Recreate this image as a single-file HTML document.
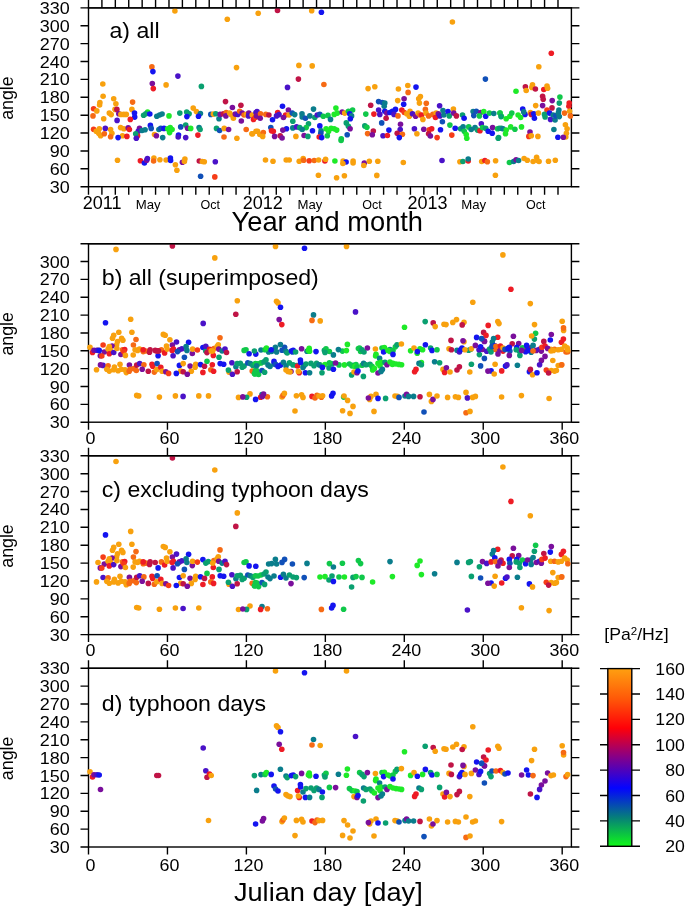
<!DOCTYPE html>
<html lang="en"><head><meta charset="utf-8"><title>Figure</title><style>html,body{margin:0;padding:0;background:#fff}svg{display:block}</style></head><body>
<svg width="685" height="908" viewBox="0 0 685 908">
<rect width="685" height="908" fill="#fff"/>
<defs><linearGradient id="cb" x1="0" y1="0" x2="0" y2="1"><stop offset="0" stop-color="#ffa010"/><stop offset="0.17" stop-color="#ff5808"/><stop offset="0.335" stop-color="#ff0008"/><stop offset="0.5" stop-color="#84008a"/><stop offset="0.672" stop-color="#0404ff"/><stop offset="0.84" stop-color="#068078"/><stop offset="1" stop-color="#10f818"/></linearGradient></defs>
<g stroke="#000" stroke-width="1.4" fill="none" stroke-linecap="butt">
<rect x="88.5" y="7.9" width="482.9" height="178.79999999999998"/>
<path d="M80.5 186.70H88.5M571.4 186.70H579.4 M80.5 168.82H88.5M571.4 168.82H579.4 M80.5 150.94H88.5M571.4 150.94H579.4 M80.5 133.06H88.5M571.4 133.06H579.4 M80.5 115.18H88.5M571.4 115.18H579.4 M80.5 97.30H88.5M571.4 97.30H579.4 M80.5 79.42H88.5M571.4 79.42H579.4 M80.5 61.54H88.5M571.4 61.54H579.4 M80.5 43.66H88.5M571.4 43.66H579.4 M80.5 25.78H88.5M571.4 25.78H579.4 M80.5 7.90H88.5M571.4 7.90H579.4 M88.50 -0.09999999999999964V7.9M88.50 186.7V194.7 M101.91 -0.09999999999999964V7.9M101.91 186.7V194.7 M115.33 -0.09999999999999964V7.9M115.33 186.7V194.7 M128.74 -0.09999999999999964V7.9M128.74 186.7V194.7 M142.16 -0.09999999999999964V7.9M142.16 186.7V194.7 M155.57 -0.09999999999999964V7.9M155.57 186.7V194.7 M168.98 -0.09999999999999964V7.9M168.98 186.7V194.7 M182.40 -0.09999999999999964V7.9M182.40 186.7V194.7 M195.81 -0.09999999999999964V7.9M195.81 186.7V194.7 M209.22 -0.09999999999999964V7.9M209.22 186.7V194.7 M222.64 -0.09999999999999964V7.9M222.64 186.7V194.7 M236.05 -0.09999999999999964V7.9M236.05 186.7V194.7 M249.47 -0.09999999999999964V7.9M249.47 186.7V194.7 M262.88 -0.09999999999999964V7.9M262.88 186.7V194.7 M276.29 -0.09999999999999964V7.9M276.29 186.7V194.7 M289.71 -0.09999999999999964V7.9M289.71 186.7V194.7 M303.12 -0.09999999999999964V7.9M303.12 186.7V194.7 M316.54 -0.09999999999999964V7.9M316.54 186.7V194.7 M329.95 -0.09999999999999964V7.9M329.95 186.7V194.7 M343.36 -0.09999999999999964V7.9M343.36 186.7V194.7 M356.78 -0.09999999999999964V7.9M356.78 186.7V194.7 M370.19 -0.09999999999999964V7.9M370.19 186.7V194.7 M383.61 -0.09999999999999964V7.9M383.61 186.7V194.7 M397.02 -0.09999999999999964V7.9M397.02 186.7V194.7 M410.43 -0.09999999999999964V7.9M410.43 186.7V194.7 M423.85 -0.09999999999999964V7.9M423.85 186.7V194.7 M437.26 -0.09999999999999964V7.9M437.26 186.7V194.7 M450.67 -0.09999999999999964V7.9M450.67 186.7V194.7 M464.09 -0.09999999999999964V7.9M464.09 186.7V194.7 M477.50 -0.09999999999999964V7.9M477.50 186.7V194.7 M490.92 -0.09999999999999964V7.9M490.92 186.7V194.7 M504.33 -0.09999999999999964V7.9M504.33 186.7V194.7 M517.74 -0.09999999999999964V7.9M517.74 186.7V194.7 M531.16 -0.09999999999999964V7.9M531.16 186.7V194.7 M544.57 -0.09999999999999964V7.9M544.57 186.7V194.7 M557.99 -0.09999999999999964V7.9M557.99 186.7V194.7"/>
<rect x="88.5" y="243.7" width="482.9" height="178.5"/>
<path d="M80.5 422.20H88.5M571.4 422.20H579.4 M80.5 404.35H88.5M571.4 404.35H579.4 M80.5 386.50H88.5M571.4 386.50H579.4 M80.5 368.65H88.5M571.4 368.65H579.4 M80.5 350.80H88.5M571.4 350.80H579.4 M80.5 332.95H88.5M571.4 332.95H579.4 M80.5 315.10H88.5M571.4 315.10H579.4 M80.5 297.25H88.5M571.4 297.25H579.4 M80.5 279.40H88.5M571.4 279.40H579.4 M80.5 261.55H88.5M571.4 261.55H579.4 M80.5 243.70H88.5M571.4 243.70H579.4 M88.50 422.2V429.7 M167.45 422.2V429.7 M246.40 422.2V429.7 M325.34 422.2V429.7 M404.29 422.2V429.7 M483.24 422.2V429.7 M562.19 422.2V429.7"/>
<rect x="88.5" y="455.8" width="482.9" height="178.8"/>
<path d="M80.5 634.60H88.5M571.4 634.60H579.4 M80.5 616.72H88.5M571.4 616.72H579.4 M80.5 598.84H88.5M571.4 598.84H579.4 M80.5 580.96H88.5M571.4 580.96H579.4 M80.5 563.08H88.5M571.4 563.08H579.4 M80.5 545.20H88.5M571.4 545.20H579.4 M80.5 527.32H88.5M571.4 527.32H579.4 M80.5 509.44H88.5M571.4 509.44H579.4 M80.5 491.56H88.5M571.4 491.56H579.4 M80.5 473.68H88.5M571.4 473.68H579.4 M80.5 455.80H88.5M571.4 455.80H579.4 M88.50 447.8V455.8 M88.50 634.6V642.1 M167.45 447.8V455.8 M167.45 634.6V642.1 M246.40 447.8V455.8 M246.40 634.6V642.1 M325.34 447.8V455.8 M325.34 634.6V642.1 M404.29 447.8V455.8 M404.29 634.6V642.1 M483.24 447.8V455.8 M483.24 634.6V642.1 M562.19 447.8V455.8 M562.19 634.6V642.1"/>
<rect x="88.5" y="668.3" width="482.9" height="178.70000000000005"/>
<path d="M80.5 847.00H88.5M571.4 847.00H579.4 M80.5 829.13H88.5M571.4 829.13H579.4 M80.5 811.26H88.5M571.4 811.26H579.4 M80.5 793.39H88.5M571.4 793.39H579.4 M80.5 775.52H88.5M571.4 775.52H579.4 M80.5 757.65H88.5M571.4 757.65H579.4 M80.5 739.78H88.5M571.4 739.78H579.4 M80.5 721.91H88.5M571.4 721.91H579.4 M80.5 704.04H88.5M571.4 704.04H579.4 M80.5 686.17H88.5M571.4 686.17H579.4 M80.5 668.30H88.5M571.4 668.30H579.4 M88.50 660.3V668.3 M88.50 847.0V854.5 M167.45 660.3V668.3 M167.45 847.0V854.5 M246.40 660.3V668.3 M246.40 847.0V854.5 M325.34 660.3V668.3 M325.34 847.0V854.5 M404.29 660.3V668.3 M404.29 847.0V854.5 M483.24 660.3V668.3 M483.24 847.0V854.5 M562.19 660.3V668.3 M562.19 847.0V854.5"/>
</g>
<clipPath id="cpa"><rect x="84.5" y="7.2" width="490.9" height="183.79999999999998"/></clipPath>
<g clip-path="url(#cpa)">
<circle cx="174.9" cy="11.0" r="2.8" fill="#f8a10e"/>
<circle cx="227.3" cy="19.2" r="2.8" fill="#f8a10e"/>
<circle cx="151.9" cy="66.9" r="2.8" fill="#f66a14"/>
<circle cx="152.9" cy="71.6" r="2.8" fill="#1414f0"/>
<circle cx="177.9" cy="76.1" r="2.8" fill="#4a12c8"/>
<circle cx="236.5" cy="67.6" r="2.8" fill="#f8a10e"/>
<circle cx="258.2" cy="13.2" r="2.8" fill="#f8a10e"/>
<circle cx="277.5" cy="10.5" r="2.8" fill="#c01446"/>
<circle cx="311.7" cy="10.7" r="2.8" fill="#f8a10e"/>
<circle cx="321.4" cy="12.2" r="2.8" fill="#1414f0"/>
<circle cx="298.9" cy="65.4" r="2.8" fill="#f8a10e"/>
<circle cx="312.2" cy="65.9" r="2.8" fill="#f8a10e"/>
<circle cx="298.4" cy="79.1" r="2.8" fill="#c01446"/>
<circle cx="452.4" cy="22.0" r="2.8" fill="#f8a10e"/>
<circle cx="551.3" cy="53.2" r="2.8" fill="#ee1c25"/>
<circle cx="538.8" cy="66.7" r="2.8" fill="#f8a10e"/>
<circle cx="485.4" cy="79.1" r="2.8" fill="#1050b8"/>
<circle cx="102.8" cy="84.0" r="2.8" fill="#f8a10e"/>
<circle cx="152.3" cy="83.6" r="2.8" fill="#7a0f9c"/>
<circle cx="153.3" cy="88.6" r="2.8" fill="#ee1c25"/>
<circle cx="166.1" cy="84.9" r="2.8" fill="#f8a10e"/>
<circle cx="103.1" cy="96.2" r="2.8" fill="#f8a10e"/>
<circle cx="99.9" cy="102.5" r="2.8" fill="#f8a10e"/>
<circle cx="99.6" cy="105.0" r="2.8" fill="#f8a10e"/>
<circle cx="113.7" cy="98.7" r="2.8" fill="#f8a10e"/>
<circle cx="115.9" cy="103.7" r="2.8" fill="#f8a10e"/>
<circle cx="132.6" cy="102.1" r="2.8" fill="#f66a14"/>
<circle cx="93.6" cy="108.7" r="2.8" fill="#f63c18"/>
<circle cx="96.8" cy="110.9" r="2.8" fill="#f8a10e"/>
<circle cx="115.0" cy="109.4" r="2.8" fill="#f8a10e"/>
<circle cx="116.9" cy="109.4" r="2.8" fill="#c01446"/>
<circle cx="131.9" cy="109.4" r="2.8" fill="#f8a10e"/>
<circle cx="93.0" cy="115.9" r="2.8" fill="#f66a14"/>
<circle cx="109.3" cy="113.1" r="2.8" fill="#f8a10e"/>
<circle cx="111.2" cy="114.6" r="2.8" fill="#f8a10e"/>
<circle cx="118.8" cy="113.8" r="2.8" fill="#7a0f9c"/>
<circle cx="120.9" cy="114.4" r="2.8" fill="#f8a10e"/>
<circle cx="123.8" cy="114.4" r="2.8" fill="#f8a10e"/>
<circle cx="126.3" cy="114.4" r="2.8" fill="#f8a10e"/>
<circle cx="103.7" cy="118.8" r="2.8" fill="#f8a10e"/>
<circle cx="117.1" cy="120.4" r="2.8" fill="#4a12c8"/>
<circle cx="134.5" cy="113.1" r="2.8" fill="#1414f0"/>
<circle cx="134.7" cy="117.1" r="2.8" fill="#1414f0"/>
<circle cx="130.3" cy="119.4" r="2.8" fill="#ee1c25"/>
<circle cx="147.6" cy="112.1" r="2.8" fill="#1eea28"/>
<circle cx="145.8" cy="113.8" r="2.8" fill="#0aa070"/>
<circle cx="143.6" cy="115.3" r="2.8" fill="#0aa070"/>
<circle cx="149.8" cy="114.0" r="2.8" fill="#1414f0"/>
<circle cx="156.8" cy="116.3" r="2.8" fill="#0a7d8c"/>
<circle cx="159.6" cy="115.0" r="2.8" fill="#0a7d8c"/>
<circle cx="162.1" cy="114.0" r="2.8" fill="#0a7d8c"/>
<circle cx="169.0" cy="115.9" r="2.8" fill="#1eea28"/>
<circle cx="93.6" cy="129.2" r="2.8" fill="#f63c18"/>
<circle cx="96.2" cy="131.3" r="2.8" fill="#f8a10e"/>
<circle cx="99.3" cy="128.8" r="2.8" fill="#f8a10e"/>
<circle cx="98.7" cy="133.2" r="2.8" fill="#f8a10e"/>
<circle cx="100.6" cy="135.7" r="2.8" fill="#f8a10e"/>
<circle cx="105.3" cy="128.4" r="2.8" fill="#4a12c8"/>
<circle cx="104.3" cy="133.8" r="2.8" fill="#f66a14"/>
<circle cx="110.6" cy="129.5" r="2.8" fill="#f8a10e"/>
<circle cx="111.9" cy="133.2" r="2.8" fill="#f8a10e"/>
<circle cx="110.6" cy="136.7" r="2.8" fill="#f66a14"/>
<circle cx="120.6" cy="127.6" r="2.8" fill="#f8a10e"/>
<circle cx="123.8" cy="128.8" r="2.8" fill="#f8a10e"/>
<circle cx="122.5" cy="135.7" r="2.8" fill="#f8a10e"/>
<circle cx="118.1" cy="137.6" r="2.8" fill="#1414f0"/>
<circle cx="128.2" cy="127.9" r="2.8" fill="#7a0f9c"/>
<circle cx="129.4" cy="129.5" r="2.8" fill="#ee1c25"/>
<circle cx="126.9" cy="136.4" r="2.8" fill="#ee1c25"/>
<circle cx="139.5" cy="128.2" r="2.8" fill="#7a0f9c"/>
<circle cx="138.2" cy="131.3" r="2.8" fill="#4a12c8"/>
<circle cx="137.6" cy="135.7" r="2.8" fill="#ee1c25"/>
<circle cx="135.7" cy="133.8" r="2.8" fill="#0aa070"/>
<circle cx="136.3" cy="138.2" r="2.8" fill="#4a12c8"/>
<circle cx="142.0" cy="130.5" r="2.8" fill="#0a7d8c"/>
<circle cx="145.1" cy="129.7" r="2.8" fill="#0a7d8c"/>
<circle cx="150.4" cy="125.4" r="2.8" fill="#1414f0"/>
<circle cx="151.2" cy="128.4" r="2.8" fill="#1050b8"/>
<circle cx="154.5" cy="134.5" r="2.8" fill="#f8a10e"/>
<circle cx="156.4" cy="135.7" r="2.8" fill="#7a0f9c"/>
<circle cx="158.9" cy="129.5" r="2.8" fill="#0a7d8c"/>
<circle cx="160.8" cy="128.2" r="2.8" fill="#1050b8"/>
<circle cx="164.0" cy="128.4" r="2.8" fill="#1414f0"/>
<circle cx="162.7" cy="137.6" r="2.8" fill="#0a7d8c"/>
<circle cx="167.7" cy="128.8" r="2.8" fill="#1eea28"/>
<circle cx="170.2" cy="127.6" r="2.8" fill="#1eea28"/>
<circle cx="172.1" cy="129.5" r="2.8" fill="#1eea28"/>
<circle cx="169.6" cy="132.6" r="2.8" fill="#1eea28"/>
<circle cx="201.4" cy="86.4" r="2.8" fill="#0aa070"/>
<circle cx="225.5" cy="101.6" r="2.8" fill="#c01446"/>
<circle cx="240.9" cy="105.3" r="2.8" fill="#c01446"/>
<circle cx="232.4" cy="107.5" r="2.8" fill="#7a0f9c"/>
<circle cx="193.2" cy="108.1" r="2.8" fill="#f8a10e"/>
<circle cx="196.4" cy="111.6" r="2.8" fill="#f8a10e"/>
<circle cx="179.8" cy="113.1" r="2.8" fill="#0aa070"/>
<circle cx="186.7" cy="112.1" r="2.8" fill="#0aa070"/>
<circle cx="189.1" cy="113.8" r="2.8" fill="#0aa070"/>
<circle cx="186.9" cy="116.6" r="2.8" fill="#1414f0"/>
<circle cx="200.4" cy="113.5" r="2.8" fill="#0a7d8c"/>
<circle cx="198.5" cy="116.3" r="2.8" fill="#1414f0"/>
<circle cx="210.8" cy="114.4" r="2.8" fill="#1050b8"/>
<circle cx="213.3" cy="114.1" r="2.8" fill="#f8a10e"/>
<circle cx="215.8" cy="113.8" r="2.8" fill="#0aa070"/>
<circle cx="219.0" cy="118.8" r="2.8" fill="#0a7d8c"/>
<circle cx="220.2" cy="114.4" r="2.8" fill="#7a0f9c"/>
<circle cx="223.4" cy="113.8" r="2.8" fill="#c01446"/>
<circle cx="226.2" cy="112.5" r="2.8" fill="#f66a14"/>
<circle cx="225.9" cy="115.9" r="2.8" fill="#7a0f9c"/>
<circle cx="229.6" cy="113.1" r="2.8" fill="#f8a10e"/>
<circle cx="231.5" cy="115.0" r="2.8" fill="#f8a10e"/>
<circle cx="233.4" cy="118.2" r="2.8" fill="#f8a10e"/>
<circle cx="235.3" cy="114.1" r="2.8" fill="#7a0f9c"/>
<circle cx="237.8" cy="114.4" r="2.8" fill="#4a12c8"/>
<circle cx="239.7" cy="111.2" r="2.8" fill="#f66a14"/>
<circle cx="242.2" cy="113.1" r="2.8" fill="#7a0f9c"/>
<circle cx="244.1" cy="115.0" r="2.8" fill="#f66a14"/>
<circle cx="246.6" cy="114.4" r="2.8" fill="#f8a10e"/>
<circle cx="248.8" cy="113.1" r="2.8" fill="#7a0f9c"/>
<circle cx="248.5" cy="115.9" r="2.8" fill="#4a12c8"/>
<circle cx="252.2" cy="115.0" r="2.8" fill="#f8a10e"/>
<circle cx="253.5" cy="119.4" r="2.8" fill="#ee1c25"/>
<circle cx="256.0" cy="112.5" r="2.8" fill="#4a12c8"/>
<circle cx="255.4" cy="117.5" r="2.8" fill="#f63c18"/>
<circle cx="241.3" cy="121.0" r="2.8" fill="#7a0f9c"/>
<circle cx="180.7" cy="126.9" r="2.8" fill="#1050b8"/>
<circle cx="185.7" cy="125.1" r="2.8" fill="#0aa070"/>
<circle cx="187.6" cy="128.2" r="2.8" fill="#7a0f9c"/>
<circle cx="190.7" cy="128.4" r="2.8" fill="#1eea28"/>
<circle cx="178.5" cy="135.1" r="2.8" fill="#1414f0"/>
<circle cx="178.2" cy="137.0" r="2.8" fill="#4a12c8"/>
<circle cx="185.7" cy="137.6" r="2.8" fill="#4a12c8"/>
<circle cx="199.1" cy="127.6" r="2.8" fill="#0a7d8c"/>
<circle cx="200.1" cy="129.5" r="2.8" fill="#0aa070"/>
<circle cx="197.9" cy="135.1" r="2.8" fill="#ee1c25"/>
<circle cx="216.5" cy="128.4" r="2.8" fill="#0aa070"/>
<circle cx="219.6" cy="130.5" r="2.8" fill="#1050b8"/>
<circle cx="224.2" cy="128.4" r="2.8" fill="#f8a10e"/>
<circle cx="228.6" cy="129.5" r="2.8" fill="#7a0f9c"/>
<circle cx="224.0" cy="137.0" r="2.8" fill="#f66a14"/>
<circle cx="236.9" cy="138.2" r="2.8" fill="#f8a10e"/>
<circle cx="246.2" cy="129.5" r="2.8" fill="#f66a14"/>
<circle cx="251.9" cy="133.8" r="2.8" fill="#f8a10e"/>
<circle cx="256.0" cy="131.3" r="2.8" fill="#f8a10e"/>
<circle cx="287.5" cy="87.4" r="2.8" fill="#4a12c8"/>
<circle cx="323.9" cy="84.5" r="2.8" fill="#f66a14"/>
<circle cx="282.5" cy="106.2" r="2.8" fill="#1414f0"/>
<circle cx="313.5" cy="109.1" r="2.8" fill="#0a7d8c"/>
<circle cx="335.9" cy="108.1" r="2.8" fill="#1eea28"/>
<circle cx="257.0" cy="111.6" r="2.8" fill="#4a12c8"/>
<circle cx="256.4" cy="115.9" r="2.8" fill="#7a0f9c"/>
<circle cx="260.5" cy="113.8" r="2.8" fill="#f66a14"/>
<circle cx="260.2" cy="118.2" r="2.8" fill="#7a0f9c"/>
<circle cx="265.8" cy="114.4" r="2.8" fill="#f66a14"/>
<circle cx="268.9" cy="115.0" r="2.8" fill="#c01446"/>
<circle cx="277.7" cy="112.5" r="2.8" fill="#ee1c25"/>
<circle cx="279.0" cy="114.6" r="2.8" fill="#4a12c8"/>
<circle cx="276.5" cy="115.9" r="2.8" fill="#4a12c8"/>
<circle cx="272.5" cy="119.7" r="2.8" fill="#1414f0"/>
<circle cx="288.4" cy="110.0" r="2.8" fill="#7a0f9c"/>
<circle cx="285.6" cy="115.0" r="2.8" fill="#ee1c25"/>
<circle cx="283.4" cy="117.5" r="2.8" fill="#7a0f9c"/>
<circle cx="289.0" cy="115.0" r="2.8" fill="#f8a10e"/>
<circle cx="292.2" cy="113.1" r="2.8" fill="#1050b8"/>
<circle cx="294.7" cy="114.6" r="2.8" fill="#0a7d8c"/>
<circle cx="302.0" cy="113.8" r="2.8" fill="#0a7d8c"/>
<circle cx="302.2" cy="116.9" r="2.8" fill="#0a7d8c"/>
<circle cx="305.4" cy="118.2" r="2.8" fill="#1050b8"/>
<circle cx="309.8" cy="115.9" r="2.8" fill="#0a7d8c"/>
<circle cx="314.8" cy="117.5" r="2.8" fill="#0aa070"/>
<circle cx="317.3" cy="115.0" r="2.8" fill="#4a12c8"/>
<circle cx="319.8" cy="114.4" r="2.8" fill="#1050b8"/>
<circle cx="323.3" cy="116.3" r="2.8" fill="#10c84a"/>
<circle cx="328.0" cy="115.4" r="2.8" fill="#10c84a"/>
<circle cx="330.5" cy="119.4" r="2.8" fill="#0a7d8c"/>
<circle cx="334.2" cy="114.4" r="2.8" fill="#1eea28"/>
<circle cx="337.4" cy="113.1" r="2.8" fill="#1eea28"/>
<circle cx="292.8" cy="121.3" r="2.8" fill="#0aa070"/>
<circle cx="308.5" cy="123.8" r="2.8" fill="#0aa070"/>
<circle cx="306.2" cy="127.6" r="2.8" fill="#10c84a"/>
<circle cx="319.8" cy="125.9" r="2.8" fill="#1414f0"/>
<circle cx="270.8" cy="127.6" r="2.8" fill="#1050b8"/>
<circle cx="271.5" cy="130.7" r="2.8" fill="#ee1c25"/>
<circle cx="273.3" cy="131.3" r="2.8" fill="#ee1c25"/>
<circle cx="286.5" cy="128.8" r="2.8" fill="#1414f0"/>
<circle cx="282.8" cy="130.1" r="2.8" fill="#7a0f9c"/>
<circle cx="292.8" cy="127.9" r="2.8" fill="#0a7d8c"/>
<circle cx="296.6" cy="126.9" r="2.8" fill="#4a12c8"/>
<circle cx="299.7" cy="127.6" r="2.8" fill="#0aa070"/>
<circle cx="302.2" cy="129.5" r="2.8" fill="#0a7d8c"/>
<circle cx="312.5" cy="130.7" r="2.8" fill="#1414f0"/>
<circle cx="321.1" cy="130.7" r="2.8" fill="#0a7d8c"/>
<circle cx="320.8" cy="133.2" r="2.8" fill="#1050b8"/>
<circle cx="326.1" cy="128.8" r="2.8" fill="#1eea28"/>
<circle cx="328.6" cy="131.3" r="2.8" fill="#1eea28"/>
<circle cx="331.1" cy="128.2" r="2.8" fill="#1eea28"/>
<circle cx="334.2" cy="128.8" r="2.8" fill="#1eea28"/>
<circle cx="336.7" cy="130.1" r="2.8" fill="#1eea28"/>
<circle cx="257.6" cy="131.3" r="2.8" fill="#f8a10e"/>
<circle cx="259.8" cy="134.5" r="2.8" fill="#f8a10e"/>
<circle cx="263.3" cy="132.6" r="2.8" fill="#f66a14"/>
<circle cx="262.7" cy="136.4" r="2.8" fill="#f8a10e"/>
<circle cx="252.6" cy="133.8" r="2.8" fill="#f8a10e"/>
<circle cx="274.6" cy="136.4" r="2.8" fill="#7a0f9c"/>
<circle cx="280.2" cy="135.7" r="2.8" fill="#c01446"/>
<circle cx="282.1" cy="138.0" r="2.8" fill="#7a0f9c"/>
<circle cx="295.9" cy="136.4" r="2.8" fill="#f8a10e"/>
<circle cx="304.1" cy="135.5" r="2.8" fill="#7a0f9c"/>
<circle cx="307.9" cy="136.4" r="2.8" fill="#0aa070"/>
<circle cx="319.2" cy="137.0" r="2.8" fill="#ee1c25"/>
<circle cx="321.7" cy="137.6" r="2.8" fill="#1414f0"/>
<circle cx="327.3" cy="135.7" r="2.8" fill="#10c84a"/>
<circle cx="368.1" cy="88.6" r="2.8" fill="#f8a10e"/>
<circle cx="374.8" cy="86.8" r="2.8" fill="#f8a10e"/>
<circle cx="398.4" cy="89.0" r="2.8" fill="#f8a10e"/>
<circle cx="407.8" cy="85.5" r="2.8" fill="#f8a10e"/>
<circle cx="416.0" cy="87.1" r="2.8" fill="#1414f0"/>
<circle cx="408.1" cy="92.4" r="2.8" fill="#f66a14"/>
<circle cx="404.1" cy="98.7" r="2.8" fill="#7a0f9c"/>
<circle cx="397.7" cy="100.6" r="2.8" fill="#f8a10e"/>
<circle cx="403.7" cy="104.3" r="2.8" fill="#1414f0"/>
<circle cx="418.7" cy="98.7" r="2.8" fill="#f8a10e"/>
<circle cx="419.4" cy="103.1" r="2.8" fill="#f8a10e"/>
<circle cx="370.7" cy="105.3" r="2.8" fill="#c01446"/>
<circle cx="378.6" cy="101.6" r="2.8" fill="#1050b8"/>
<circle cx="382.3" cy="102.5" r="2.8" fill="#1050b8"/>
<circle cx="384.8" cy="103.1" r="2.8" fill="#0a7d8c"/>
<circle cx="384.2" cy="106.2" r="2.8" fill="#0a7d8c"/>
<circle cx="342.2" cy="112.1" r="2.8" fill="#7a0f9c"/>
<circle cx="344.7" cy="113.1" r="2.8" fill="#f8a10e"/>
<circle cx="348.4" cy="111.2" r="2.8" fill="#10c84a"/>
<circle cx="352.6" cy="110.0" r="2.8" fill="#10c84a"/>
<circle cx="349.7" cy="113.8" r="2.8" fill="#1414f0"/>
<circle cx="351.6" cy="115.9" r="2.8" fill="#0a7d8c"/>
<circle cx="350.3" cy="118.8" r="2.8" fill="#1414f0"/>
<circle cx="365.8" cy="114.1" r="2.8" fill="#10c84a"/>
<circle cx="373.9" cy="114.1" r="2.8" fill="#ee1c25"/>
<circle cx="378.6" cy="110.0" r="2.8" fill="#4a12c8"/>
<circle cx="379.8" cy="114.4" r="2.8" fill="#4a12c8"/>
<circle cx="384.8" cy="111.2" r="2.8" fill="#1414f0"/>
<circle cx="386.7" cy="113.1" r="2.8" fill="#7a0f9c"/>
<circle cx="386.1" cy="118.2" r="2.8" fill="#c01446"/>
<circle cx="389.9" cy="112.5" r="2.8" fill="#1414f0"/>
<circle cx="392.4" cy="111.2" r="2.8" fill="#1414f0"/>
<circle cx="395.5" cy="109.4" r="2.8" fill="#1414f0"/>
<circle cx="394.0" cy="114.4" r="2.8" fill="#4a12c8"/>
<circle cx="398.0" cy="115.9" r="2.8" fill="#f66a14"/>
<circle cx="401.8" cy="110.0" r="2.8" fill="#ee1c25"/>
<circle cx="404.3" cy="112.5" r="2.8" fill="#f63c18"/>
<circle cx="406.8" cy="113.8" r="2.8" fill="#f8a10e"/>
<circle cx="410.0" cy="111.2" r="2.8" fill="#f8a10e"/>
<circle cx="409.3" cy="116.3" r="2.8" fill="#f8a10e"/>
<circle cx="412.5" cy="113.8" r="2.8" fill="#4a12c8"/>
<circle cx="415.6" cy="116.3" r="2.8" fill="#7a0f9c"/>
<circle cx="418.1" cy="113.1" r="2.8" fill="#f8a10e"/>
<circle cx="420.0" cy="115.0" r="2.8" fill="#f66a14"/>
<circle cx="346.3" cy="122.9" r="2.8" fill="#0aa070"/>
<circle cx="348.4" cy="126.3" r="2.8" fill="#0aa070"/>
<circle cx="350.1" cy="128.8" r="2.8" fill="#7a0f9c"/>
<circle cx="381.7" cy="122.9" r="2.8" fill="#1050b8"/>
<circle cx="400.5" cy="124.2" r="2.8" fill="#7a0f9c"/>
<circle cx="400.2" cy="129.5" r="2.8" fill="#4a12c8"/>
<circle cx="364.8" cy="125.9" r="2.8" fill="#0aa070"/>
<circle cx="366.9" cy="127.2" r="2.8" fill="#10c84a"/>
<circle cx="373.3" cy="131.0" r="2.8" fill="#c01446"/>
<circle cx="367.6" cy="133.6" r="2.8" fill="#f66a14"/>
<circle cx="372.3" cy="134.7" r="2.8" fill="#7a0f9c"/>
<circle cx="388.9" cy="130.1" r="2.8" fill="#1414f0"/>
<circle cx="383.0" cy="135.7" r="2.8" fill="#4a12c8"/>
<circle cx="387.4" cy="135.5" r="2.8" fill="#ee1c25"/>
<circle cx="397.2" cy="133.2" r="2.8" fill="#c01446"/>
<circle cx="402.4" cy="134.2" r="2.8" fill="#f66a14"/>
<circle cx="399.3" cy="137.6" r="2.8" fill="#1414f0"/>
<circle cx="414.4" cy="128.8" r="2.8" fill="#4a12c8"/>
<circle cx="416.9" cy="133.8" r="2.8" fill="#f8a10e"/>
<circle cx="347.2" cy="134.7" r="2.8" fill="#1050b8"/>
<circle cx="341.3" cy="138.9" r="2.8" fill="#10c84a"/>
<circle cx="420.4" cy="96.6" r="2.8" fill="#f8a10e"/>
<circle cx="426.3" cy="103.3" r="2.8" fill="#f66a14"/>
<circle cx="425.4" cy="109.4" r="2.8" fill="#f66a14"/>
<circle cx="439.6" cy="105.8" r="2.8" fill="#4a12c8"/>
<circle cx="421.6" cy="115.0" r="2.8" fill="#ee1c25"/>
<circle cx="422.9" cy="119.4" r="2.8" fill="#f8a10e"/>
<circle cx="426.0" cy="113.1" r="2.8" fill="#f8a10e"/>
<circle cx="428.6" cy="115.9" r="2.8" fill="#f66a14"/>
<circle cx="432.9" cy="114.4" r="2.8" fill="#f66a14"/>
<circle cx="436.1" cy="113.1" r="2.8" fill="#f8a10e"/>
<circle cx="435.5" cy="117.5" r="2.8" fill="#ee1c25"/>
<circle cx="438.3" cy="113.8" r="2.8" fill="#7a0f9c"/>
<circle cx="439.9" cy="115.9" r="2.8" fill="#4a12c8"/>
<circle cx="443.0" cy="110.6" r="2.8" fill="#0a7d8c"/>
<circle cx="443.9" cy="115.0" r="2.8" fill="#0a7d8c"/>
<circle cx="448.0" cy="111.6" r="2.8" fill="#1414f0"/>
<circle cx="449.3" cy="115.9" r="2.8" fill="#0aa070"/>
<circle cx="453.4" cy="109.1" r="2.8" fill="#f8a10e"/>
<circle cx="453.7" cy="113.1" r="2.8" fill="#7a0f9c"/>
<circle cx="456.4" cy="115.9" r="2.8" fill="#c01446"/>
<circle cx="442.4" cy="121.7" r="2.8" fill="#1050b8"/>
<circle cx="462.5" cy="115.0" r="2.8" fill="#0aa070"/>
<circle cx="464.1" cy="118.2" r="2.8" fill="#1414f0"/>
<circle cx="473.1" cy="111.6" r="2.8" fill="#0a7d8c"/>
<circle cx="476.3" cy="111.2" r="2.8" fill="#1050b8"/>
<circle cx="473.8" cy="115.6" r="2.8" fill="#1050b8"/>
<circle cx="480.7" cy="112.5" r="2.8" fill="#7a0f9c"/>
<circle cx="479.4" cy="115.9" r="2.8" fill="#10c84a"/>
<circle cx="483.8" cy="111.6" r="2.8" fill="#1eea28"/>
<circle cx="485.7" cy="116.3" r="2.8" fill="#1414f0"/>
<circle cx="489.4" cy="113.1" r="2.8" fill="#10c84a"/>
<circle cx="493.8" cy="113.5" r="2.8" fill="#0a7d8c"/>
<circle cx="500.1" cy="113.1" r="2.8" fill="#1eea28"/>
<circle cx="501.4" cy="116.3" r="2.8" fill="#1eea28"/>
<circle cx="449.9" cy="125.1" r="2.8" fill="#10c84a"/>
<circle cx="481.3" cy="123.8" r="2.8" fill="#4a12c8"/>
<circle cx="423.8" cy="129.2" r="2.8" fill="#7a0f9c"/>
<circle cx="429.2" cy="129.7" r="2.8" fill="#f63c18"/>
<circle cx="431.7" cy="128.8" r="2.8" fill="#ee1c25"/>
<circle cx="440.5" cy="129.7" r="2.8" fill="#1414f0"/>
<circle cx="455.2" cy="128.2" r="2.8" fill="#1414f0"/>
<circle cx="460.6" cy="128.8" r="2.8" fill="#0aa070"/>
<circle cx="463.1" cy="126.9" r="2.8" fill="#0a7d8c"/>
<circle cx="464.3" cy="131.3" r="2.8" fill="#10c84a"/>
<circle cx="468.7" cy="126.9" r="2.8" fill="#10c84a"/>
<circle cx="471.2" cy="129.5" r="2.8" fill="#0a7d8c"/>
<circle cx="475.0" cy="127.6" r="2.8" fill="#0a7d8c"/>
<circle cx="477.5" cy="130.1" r="2.8" fill="#0aa070"/>
<circle cx="480.0" cy="130.7" r="2.8" fill="#ee1c25"/>
<circle cx="482.5" cy="127.6" r="2.8" fill="#10c84a"/>
<circle cx="485.7" cy="128.2" r="2.8" fill="#0aa070"/>
<circle cx="488.2" cy="131.3" r="2.8" fill="#1414f0"/>
<circle cx="492.6" cy="127.6" r="2.8" fill="#7a0f9c"/>
<circle cx="492.2" cy="133.2" r="2.8" fill="#1414f0"/>
<circle cx="497.6" cy="128.8" r="2.8" fill="#10c84a"/>
<circle cx="501.4" cy="128.2" r="2.8" fill="#0aa070"/>
<circle cx="428.6" cy="133.8" r="2.8" fill="#c01446"/>
<circle cx="430.4" cy="136.0" r="2.8" fill="#7a0f9c"/>
<circle cx="437.1" cy="137.6" r="2.8" fill="#f63c18"/>
<circle cx="451.8" cy="135.1" r="2.8" fill="#f63c18"/>
<circle cx="466.2" cy="134.5" r="2.8" fill="#1eea28"/>
<circle cx="466.8" cy="138.2" r="2.8" fill="#1eea28"/>
<circle cx="498.2" cy="138.2" r="2.8" fill="#0aa070"/>
<circle cx="516.0" cy="91.2" r="2.8" fill="#1eea28"/>
<circle cx="525.4" cy="86.8" r="2.8" fill="#c01446"/>
<circle cx="526.2" cy="90.5" r="2.8" fill="#f8a10e"/>
<circle cx="532.5" cy="84.9" r="2.8" fill="#f8a10e"/>
<circle cx="531.9" cy="87.4" r="2.8" fill="#f8a10e"/>
<circle cx="535.4" cy="89.0" r="2.8" fill="#c01446"/>
<circle cx="543.8" cy="89.5" r="2.8" fill="#ee1c25"/>
<circle cx="547.0" cy="86.1" r="2.8" fill="#f8a10e"/>
<circle cx="547.6" cy="88.3" r="2.8" fill="#f8a10e"/>
<circle cx="542.6" cy="96.2" r="2.8" fill="#c01446"/>
<circle cx="543.2" cy="99.3" r="2.8" fill="#c01446"/>
<circle cx="552.2" cy="100.6" r="2.8" fill="#7a0f9c"/>
<circle cx="559.9" cy="97.1" r="2.8" fill="#10c84a"/>
<circle cx="559.3" cy="103.1" r="2.8" fill="#0aa070"/>
<circle cx="569.2" cy="103.1" r="2.8" fill="#ee1c25"/>
<circle cx="568.9" cy="106.2" r="2.8" fill="#ee1c25"/>
<circle cx="535.7" cy="105.6" r="2.8" fill="#f8a10e"/>
<circle cx="542.6" cy="105.6" r="2.8" fill="#7a0f9c"/>
<circle cx="552.0" cy="107.9" r="2.8" fill="#c01446"/>
<circle cx="547.0" cy="110.0" r="2.8" fill="#f63c18"/>
<circle cx="522.7" cy="109.1" r="2.8" fill="#1414f0"/>
<circle cx="525.0" cy="114.4" r="2.8" fill="#1414f0"/>
<circle cx="523.7" cy="111.9" r="2.8" fill="#0a7d8c"/>
<circle cx="499.9" cy="113.1" r="2.8" fill="#10c84a"/>
<circle cx="501.1" cy="116.6" r="2.8" fill="#0aa070"/>
<circle cx="506.2" cy="118.8" r="2.8" fill="#1eea28"/>
<circle cx="509.9" cy="116.3" r="2.8" fill="#1eea28"/>
<circle cx="511.8" cy="113.1" r="2.8" fill="#10c84a"/>
<circle cx="518.1" cy="115.0" r="2.8" fill="#1eea28"/>
<circle cx="520.6" cy="117.5" r="2.8" fill="#1eea28"/>
<circle cx="530.4" cy="112.5" r="2.8" fill="#f8a10e"/>
<circle cx="531.3" cy="114.4" r="2.8" fill="#c01446"/>
<circle cx="533.8" cy="113.8" r="2.8" fill="#1414f0"/>
<circle cx="534.4" cy="118.2" r="2.8" fill="#1414f0"/>
<circle cx="538.4" cy="113.1" r="2.8" fill="#f8a10e"/>
<circle cx="544.5" cy="114.4" r="2.8" fill="#0aa070"/>
<circle cx="545.1" cy="116.9" r="2.8" fill="#0aa070"/>
<circle cx="549.5" cy="113.1" r="2.8" fill="#1414f0"/>
<circle cx="550.5" cy="119.4" r="2.8" fill="#4a12c8"/>
<circle cx="553.2" cy="115.0" r="2.8" fill="#0a7d8c"/>
<circle cx="555.1" cy="120.0" r="2.8" fill="#0a7d8c"/>
<circle cx="555.8" cy="115.9" r="2.8" fill="#1050b8"/>
<circle cx="558.9" cy="110.0" r="2.8" fill="#0a7d8c"/>
<circle cx="558.3" cy="113.1" r="2.8" fill="#0a7d8c"/>
<circle cx="559.3" cy="116.6" r="2.8" fill="#0a7d8c"/>
<circle cx="564.5" cy="113.1" r="2.8" fill="#f66a14"/>
<circle cx="569.6" cy="111.2" r="2.8" fill="#f8a10e"/>
<circle cx="570.4" cy="115.9" r="2.8" fill="#f66a14"/>
<circle cx="499.3" cy="128.2" r="2.8" fill="#0aa070"/>
<circle cx="503.0" cy="128.8" r="2.8" fill="#0a7d8c"/>
<circle cx="506.2" cy="130.1" r="2.8" fill="#1eea28"/>
<circle cx="510.6" cy="126.9" r="2.8" fill="#1eea28"/>
<circle cx="514.9" cy="129.2" r="2.8" fill="#10c84a"/>
<circle cx="505.5" cy="133.8" r="2.8" fill="#1eea28"/>
<circle cx="521.5" cy="126.9" r="2.8" fill="#1eea28"/>
<circle cx="498.6" cy="137.6" r="2.8" fill="#0aa070"/>
<circle cx="530.0" cy="132.0" r="2.8" fill="#7a0f9c"/>
<circle cx="528.8" cy="136.4" r="2.8" fill="#f63c18"/>
<circle cx="531.3" cy="135.7" r="2.8" fill="#f8a10e"/>
<circle cx="537.9" cy="136.4" r="2.8" fill="#f8a10e"/>
<circle cx="553.9" cy="129.5" r="2.8" fill="#0a7d8c"/>
<circle cx="557.9" cy="137.2" r="2.8" fill="#1414f0"/>
<circle cx="565.4" cy="124.7" r="2.8" fill="#f8a10e"/>
<circle cx="567.1" cy="128.8" r="2.8" fill="#f8a10e"/>
<circle cx="566.4" cy="133.2" r="2.8" fill="#f8a10e"/>
<circle cx="565.8" cy="137.0" r="2.8" fill="#f8a10e"/>
<circle cx="563.3" cy="137.2" r="2.8" fill="#7a0f9c"/>
<circle cx="117.5" cy="160.2" r="2.8" fill="#f8a10e"/>
<circle cx="140.4" cy="160.7" r="2.8" fill="#ee1c25"/>
<circle cx="144.4" cy="163.0" r="2.8" fill="#1414f0"/>
<circle cx="146.7" cy="160.2" r="2.8" fill="#7a0f9c"/>
<circle cx="147.4" cy="158.5" r="2.8" fill="#4a12c8"/>
<circle cx="153.9" cy="158.0" r="2.8" fill="#f8a10e"/>
<circle cx="153.6" cy="161.0" r="2.8" fill="#f66a14"/>
<circle cx="159.9" cy="159.7" r="2.8" fill="#f8a10e"/>
<circle cx="166.1" cy="160.0" r="2.8" fill="#f8a10e"/>
<circle cx="170.4" cy="158.0" r="2.8" fill="#1414f0"/>
<circle cx="170.6" cy="160.5" r="2.8" fill="#1414f0"/>
<circle cx="175.4" cy="164.7" r="2.8" fill="#f8a10e"/>
<circle cx="176.9" cy="170.2" r="2.8" fill="#f8a10e"/>
<circle cx="182.4" cy="162.2" r="2.8" fill="#7a0f9c"/>
<circle cx="184.9" cy="159.0" r="2.8" fill="#f8a10e"/>
<circle cx="184.4" cy="161.5" r="2.8" fill="#f8a10e"/>
<circle cx="199.3" cy="161.0" r="2.8" fill="#c01446"/>
<circle cx="202.3" cy="161.5" r="2.8" fill="#f8a10e"/>
<circle cx="204.3" cy="161.7" r="2.8" fill="#f8a10e"/>
<circle cx="215.3" cy="161.7" r="2.8" fill="#4a12c8"/>
<circle cx="200.6" cy="176.2" r="2.8" fill="#1050b8"/>
<circle cx="214.8" cy="176.9" r="2.8" fill="#f63c18"/>
<circle cx="341.1" cy="140.5" r="2.8" fill="#10c84a"/>
<circle cx="265.5" cy="160.0" r="2.8" fill="#f8a10e"/>
<circle cx="273.0" cy="161.2" r="2.8" fill="#f8a10e"/>
<circle cx="286.2" cy="160.0" r="2.8" fill="#f8a10e"/>
<circle cx="289.2" cy="160.0" r="2.8" fill="#f8a10e"/>
<circle cx="299.2" cy="161.2" r="2.8" fill="#f8a10e"/>
<circle cx="303.2" cy="158.5" r="2.8" fill="#f8a10e"/>
<circle cx="303.7" cy="160.2" r="2.8" fill="#f66a14"/>
<circle cx="309.2" cy="160.7" r="2.8" fill="#f63c18"/>
<circle cx="314.2" cy="160.5" r="2.8" fill="#f66a14"/>
<circle cx="318.6" cy="160.0" r="2.8" fill="#f8a10e"/>
<circle cx="324.9" cy="161.0" r="2.8" fill="#ee1c25"/>
<circle cx="325.6" cy="159.2" r="2.8" fill="#f8a10e"/>
<circle cx="334.9" cy="161.0" r="2.8" fill="#1eea28"/>
<circle cx="343.1" cy="161.0" r="2.8" fill="#f8a10e"/>
<circle cx="346.1" cy="162.0" r="2.8" fill="#1414f0"/>
<circle cx="342.9" cy="163.5" r="2.8" fill="#f8a10e"/>
<circle cx="353.1" cy="161.0" r="2.8" fill="#f8a10e"/>
<circle cx="353.1" cy="163.0" r="2.8" fill="#f8a10e"/>
<circle cx="364.3" cy="163.0" r="2.8" fill="#7a0f9c"/>
<circle cx="363.8" cy="165.5" r="2.8" fill="#f8a10e"/>
<circle cx="369.3" cy="161.2" r="2.8" fill="#f8a10e"/>
<circle cx="377.8" cy="161.2" r="2.8" fill="#f8a10e"/>
<circle cx="403.3" cy="162.5" r="2.8" fill="#f8a10e"/>
<circle cx="318.4" cy="175.2" r="2.8" fill="#f8a10e"/>
<circle cx="336.6" cy="177.7" r="2.8" fill="#f8a10e"/>
<circle cx="344.4" cy="175.7" r="2.8" fill="#f8a10e"/>
<circle cx="376.8" cy="175.4" r="2.8" fill="#f8a10e"/>
<circle cx="442.0" cy="160.5" r="2.8" fill="#4a12c8"/>
<circle cx="459.9" cy="161.7" r="2.8" fill="#f8a10e"/>
<circle cx="462.9" cy="161.5" r="2.8" fill="#0aa070"/>
<circle cx="468.2" cy="161.0" r="2.8" fill="#ee1c25"/>
<circle cx="468.2" cy="159.0" r="2.8" fill="#0a7d8c"/>
<circle cx="481.7" cy="161.5" r="2.8" fill="#f8a10e"/>
<circle cx="484.9" cy="160.5" r="2.8" fill="#ee1c25"/>
<circle cx="487.4" cy="161.7" r="2.8" fill="#f66a14"/>
<circle cx="495.6" cy="160.7" r="2.8" fill="#f8a10e"/>
<circle cx="495.4" cy="175.2" r="2.8" fill="#f8a10e"/>
<circle cx="509.4" cy="162.5" r="2.8" fill="#10c84a"/>
<circle cx="513.6" cy="161.5" r="2.8" fill="#0a7d8c"/>
<circle cx="516.1" cy="159.7" r="2.8" fill="#7a0f9c"/>
<circle cx="518.6" cy="160.5" r="2.8" fill="#0a7d8c"/>
<circle cx="524.1" cy="158.5" r="2.8" fill="#f8a10e"/>
<circle cx="527.3" cy="160.2" r="2.8" fill="#f8a10e"/>
<circle cx="533.1" cy="161.5" r="2.8" fill="#f8a10e"/>
<circle cx="536.6" cy="157.2" r="2.8" fill="#f8a10e"/>
<circle cx="539.1" cy="161.5" r="2.8" fill="#f8a10e"/>
<circle cx="537.3" cy="160.5" r="2.8" fill="#f8a10e"/>
<circle cx="548.5" cy="161.2" r="2.8" fill="#f8a10e"/>
<circle cx="555.3" cy="160.2" r="2.8" fill="#f8a10e"/>
</g>
<path d="M87.8 7.9H572.1" stroke="#000" stroke-width="1.4"/>
<clipPath id="cpb"><rect x="84.5" y="243.0" width="490.9" height="183.5"/></clipPath>
<g clip-path="url(#cpb)">
<circle cx="116.0" cy="249.4" r="2.8" fill="#f8a10e"/>
<circle cx="172.4" cy="245.9" r="2.8" fill="#c01446"/>
<circle cx="214.8" cy="257.9" r="2.8" fill="#f8a10e"/>
<circle cx="237.3" cy="300.8" r="2.8" fill="#f8a10e"/>
<circle cx="235.8" cy="314.3" r="2.8" fill="#c01446"/>
<circle cx="105.5" cy="322.8" r="2.8" fill="#1414f0"/>
<circle cx="130.7" cy="319.3" r="2.8" fill="#f8a10e"/>
<circle cx="118.8" cy="332.2" r="2.8" fill="#f8a10e"/>
<circle cx="131.9" cy="332.2" r="2.8" fill="#f8a10e"/>
<circle cx="113.7" cy="335.3" r="2.8" fill="#f8a10e"/>
<circle cx="112.5" cy="338.2" r="2.8" fill="#f8a10e"/>
<circle cx="121.6" cy="338.2" r="2.8" fill="#f8a10e"/>
<circle cx="122.9" cy="340.3" r="2.8" fill="#f8a10e"/>
<circle cx="117.5" cy="341.6" r="2.8" fill="#f8a10e"/>
<circle cx="116.6" cy="344.7" r="2.8" fill="#f8a10e"/>
<circle cx="136.0" cy="339.5" r="2.8" fill="#f66a14"/>
<circle cx="163.3" cy="334.4" r="2.8" fill="#f8a10e"/>
<circle cx="165.2" cy="335.3" r="2.8" fill="#f8a10e"/>
<circle cx="169.9" cy="339.7" r="2.8" fill="#f8a10e"/>
<circle cx="103.1" cy="345.0" r="2.8" fill="#f63c18"/>
<circle cx="133.4" cy="345.0" r="2.8" fill="#f66a14"/>
<circle cx="112.1" cy="346.0" r="2.8" fill="#7a0f9c"/>
<circle cx="109.3" cy="346.6" r="2.8" fill="#f8a10e"/>
<circle cx="98.0" cy="350.4" r="2.8" fill="#f8a10e"/>
<circle cx="104.3" cy="352.0" r="2.8" fill="#7a0f9c"/>
<circle cx="100.3" cy="355.8" r="2.8" fill="#7a0f9c"/>
<circle cx="101.8" cy="356.0" r="2.8" fill="#f63c18"/>
<circle cx="108.1" cy="349.1" r="2.8" fill="#f8a10e"/>
<circle cx="110.3" cy="350.0" r="2.8" fill="#f8a10e"/>
<circle cx="109.3" cy="353.8" r="2.8" fill="#ee1c25"/>
<circle cx="113.7" cy="352.5" r="2.8" fill="#4a12c8"/>
<circle cx="116.9" cy="348.5" r="2.8" fill="#f8a10e"/>
<circle cx="120.9" cy="354.5" r="2.8" fill="#7a0f9c"/>
<circle cx="122.5" cy="349.8" r="2.8" fill="#f66a14"/>
<circle cx="124.7" cy="349.5" r="2.8" fill="#ee1c25"/>
<circle cx="123.8" cy="351.6" r="2.8" fill="#f63c18"/>
<circle cx="125.4" cy="355.4" r="2.8" fill="#f8a10e"/>
<circle cx="133.2" cy="355.0" r="2.8" fill="#f8a10e"/>
<circle cx="135.1" cy="349.8" r="2.8" fill="#f8a10e"/>
<circle cx="137.6" cy="350.4" r="2.8" fill="#f8a10e"/>
<circle cx="139.5" cy="349.1" r="2.8" fill="#f8a10e"/>
<circle cx="143.2" cy="351.6" r="2.8" fill="#f66a14"/>
<circle cx="145.8" cy="351.0" r="2.8" fill="#f66a14"/>
<circle cx="143.2" cy="349.8" r="2.8" fill="#ee1c25"/>
<circle cx="150.1" cy="349.8" r="2.8" fill="#c01446"/>
<circle cx="149.5" cy="352.3" r="2.8" fill="#c01446"/>
<circle cx="155.2" cy="350.4" r="2.8" fill="#c01446"/>
<circle cx="158.1" cy="355.8" r="2.8" fill="#1414f0"/>
<circle cx="161.4" cy="349.8" r="2.8" fill="#f66a14"/>
<circle cx="164.6" cy="352.9" r="2.8" fill="#ee1c25"/>
<circle cx="166.5" cy="346.0" r="2.8" fill="#f8a10e"/>
<circle cx="167.1" cy="349.1" r="2.8" fill="#f8a10e"/>
<circle cx="172.4" cy="345.0" r="2.8" fill="#7a0f9c"/>
<circle cx="172.1" cy="350.4" r="2.8" fill="#ee1c25"/>
<circle cx="173.4" cy="349.1" r="2.8" fill="#ee1c25"/>
<circle cx="173.1" cy="355.8" r="2.8" fill="#4a12c8"/>
<circle cx="96.5" cy="369.8" r="2.8" fill="#f8a10e"/>
<circle cx="103.1" cy="365.4" r="2.8" fill="#4a12c8"/>
<circle cx="108.1" cy="365.8" r="2.8" fill="#f66a14"/>
<circle cx="106.8" cy="369.2" r="2.8" fill="#f8a10e"/>
<circle cx="109.3" cy="371.1" r="2.8" fill="#f8a10e"/>
<circle cx="114.4" cy="367.1" r="2.8" fill="#f8a10e"/>
<circle cx="113.7" cy="369.8" r="2.8" fill="#f8a10e"/>
<circle cx="120.0" cy="364.2" r="2.8" fill="#f8a10e"/>
<circle cx="118.1" cy="370.8" r="2.8" fill="#f8a10e"/>
<circle cx="121.3" cy="369.2" r="2.8" fill="#f8a10e"/>
<circle cx="125.0" cy="369.8" r="2.8" fill="#f8a10e"/>
<circle cx="126.3" cy="372.6" r="2.8" fill="#f8a10e"/>
<circle cx="129.4" cy="365.1" r="2.8" fill="#7a0f9c"/>
<circle cx="130.1" cy="369.2" r="2.8" fill="#f66a14"/>
<circle cx="129.2" cy="371.3" r="2.8" fill="#f66a14"/>
<circle cx="133.8" cy="368.6" r="2.8" fill="#f66a14"/>
<circle cx="136.3" cy="370.5" r="2.8" fill="#f66a14"/>
<circle cx="136.7" cy="365.1" r="2.8" fill="#c01446"/>
<circle cx="139.7" cy="363.6" r="2.8" fill="#4a12c8"/>
<circle cx="143.9" cy="364.8" r="2.8" fill="#f66a14"/>
<circle cx="142.2" cy="369.2" r="2.8" fill="#7a0f9c"/>
<circle cx="152.0" cy="364.2" r="2.8" fill="#ee1c25"/>
<circle cx="152.7" cy="366.3" r="2.8" fill="#ee1c25"/>
<circle cx="157.1" cy="363.6" r="2.8" fill="#1050b8"/>
<circle cx="148.3" cy="371.3" r="2.8" fill="#c01446"/>
<circle cx="154.3" cy="372.1" r="2.8" fill="#f66a14"/>
<circle cx="156.8" cy="369.6" r="2.8" fill="#f8a10e"/>
<circle cx="160.8" cy="367.3" r="2.8" fill="#ee1c25"/>
<circle cx="162.1" cy="371.3" r="2.8" fill="#f8a10e"/>
<circle cx="165.8" cy="371.7" r="2.8" fill="#7a0f9c"/>
<circle cx="168.6" cy="373.4" r="2.8" fill="#f63c18"/>
<circle cx="176.5" cy="342.0" r="2.8" fill="#4a12c8"/>
<circle cx="188.6" cy="342.2" r="2.8" fill="#1414f0"/>
<circle cx="220.0" cy="337.8" r="2.8" fill="#f66a14"/>
<circle cx="179.4" cy="349.8" r="2.8" fill="#7a0f9c"/>
<circle cx="181.9" cy="348.7" r="2.8" fill="#4a12c8"/>
<circle cx="177.5" cy="351.6" r="2.8" fill="#1050b8"/>
<circle cx="186.1" cy="346.6" r="2.8" fill="#0a7d8c"/>
<circle cx="186.9" cy="350.4" r="2.8" fill="#0a7d8c"/>
<circle cx="192.3" cy="353.5" r="2.8" fill="#7a0f9c"/>
<circle cx="192.6" cy="349.1" r="2.8" fill="#f8a10e"/>
<circle cx="197.4" cy="350.0" r="2.8" fill="#f63c18"/>
<circle cx="184.4" cy="357.3" r="2.8" fill="#1050b8"/>
<circle cx="202.9" cy="347.5" r="2.8" fill="#1414f0"/>
<circle cx="205.8" cy="351.0" r="2.8" fill="#0aa070"/>
<circle cx="208.3" cy="349.5" r="2.8" fill="#0aa070"/>
<circle cx="213.3" cy="355.4" r="2.8" fill="#ee1c25"/>
<circle cx="213.9" cy="348.5" r="2.8" fill="#f66a14"/>
<circle cx="212.7" cy="351.0" r="2.8" fill="#f8a10e"/>
<circle cx="218.3" cy="344.7" r="2.8" fill="#f8a10e"/>
<circle cx="217.1" cy="346.6" r="2.8" fill="#f8a10e"/>
<circle cx="218.7" cy="349.1" r="2.8" fill="#7a0f9c"/>
<circle cx="219.0" cy="357.3" r="2.8" fill="#0aa070"/>
<circle cx="222.1" cy="351.0" r="2.8" fill="#0a7d8c"/>
<circle cx="225.0" cy="349.1" r="2.8" fill="#4a12c8"/>
<circle cx="226.5" cy="352.5" r="2.8" fill="#c01446"/>
<circle cx="244.1" cy="350.4" r="2.8" fill="#10c84a"/>
<circle cx="246.0" cy="349.8" r="2.8" fill="#10c84a"/>
<circle cx="249.1" cy="353.8" r="2.8" fill="#1414f0"/>
<circle cx="255.8" cy="354.1" r="2.8" fill="#1414f0"/>
<circle cx="179.4" cy="365.4" r="2.8" fill="#1414f0"/>
<circle cx="183.2" cy="363.6" r="2.8" fill="#f8a10e"/>
<circle cx="190.1" cy="366.1" r="2.8" fill="#7a0f9c"/>
<circle cx="195.7" cy="364.2" r="2.8" fill="#f8a10e"/>
<circle cx="195.1" cy="367.3" r="2.8" fill="#f8a10e"/>
<circle cx="191.3" cy="371.3" r="2.8" fill="#f8a10e"/>
<circle cx="180.7" cy="371.1" r="2.8" fill="#f8a10e"/>
<circle cx="176.3" cy="373.4" r="2.8" fill="#1414f0"/>
<circle cx="183.2" cy="371.7" r="2.8" fill="#c01446"/>
<circle cx="187.3" cy="374.2" r="2.8" fill="#7a0f9c"/>
<circle cx="200.5" cy="364.6" r="2.8" fill="#1414f0"/>
<circle cx="207.0" cy="361.3" r="2.8" fill="#10c84a"/>
<circle cx="204.5" cy="366.3" r="2.8" fill="#c01446"/>
<circle cx="212.3" cy="364.8" r="2.8" fill="#ee1c25"/>
<circle cx="202.9" cy="372.4" r="2.8" fill="#ee1c25"/>
<circle cx="210.8" cy="369.8" r="2.8" fill="#f66a14"/>
<circle cx="213.6" cy="371.3" r="2.8" fill="#ee1c25"/>
<circle cx="220.2" cy="363.6" r="2.8" fill="#1414f0"/>
<circle cx="223.7" cy="364.2" r="2.8" fill="#1414f0"/>
<circle cx="231.9" cy="362.7" r="2.8" fill="#4a12c8"/>
<circle cx="229.0" cy="372.1" r="2.8" fill="#f8a10e"/>
<circle cx="228.4" cy="370.1" r="2.8" fill="#0aa070"/>
<circle cx="232.4" cy="374.2" r="2.8" fill="#4a12c8"/>
<circle cx="235.9" cy="366.7" r="2.8" fill="#0a7d8c"/>
<circle cx="237.2" cy="363.6" r="2.8" fill="#0aa070"/>
<circle cx="240.3" cy="363.3" r="2.8" fill="#0aa070"/>
<circle cx="237.2" cy="371.7" r="2.8" fill="#c01446"/>
<circle cx="242.2" cy="367.3" r="2.8" fill="#0aa070"/>
<circle cx="244.1" cy="366.1" r="2.8" fill="#0aa070"/>
<circle cx="247.8" cy="362.9" r="2.8" fill="#1050b8"/>
<circle cx="250.4" cy="363.6" r="2.8" fill="#0a7d8c"/>
<circle cx="252.9" cy="365.4" r="2.8" fill="#0aa070"/>
<circle cx="255.4" cy="363.6" r="2.8" fill="#10c84a"/>
<circle cx="252.2" cy="371.1" r="2.8" fill="#f66a14"/>
<circle cx="254.4" cy="373.6" r="2.8" fill="#10c84a"/>
<circle cx="255.4" cy="370.5" r="2.8" fill="#10c84a"/>
<circle cx="268.6" cy="351.9" r="2.8" fill="#0a7d8c"/>
<circle cx="271.6" cy="351.5" r="2.8" fill="#0a7d8c"/>
<circle cx="275.4" cy="347.3" r="2.8" fill="#0a7d8c"/>
<circle cx="276.6" cy="351.9" r="2.8" fill="#0a7d8c"/>
<circle cx="282.0" cy="350.3" r="2.8" fill="#1050b8"/>
<circle cx="284.6" cy="347.3" r="2.8" fill="#1050b8"/>
<circle cx="292.4" cy="351.9" r="2.8" fill="#1050b8"/>
<circle cx="307.0" cy="351.3" r="2.8" fill="#0a7d8c"/>
<circle cx="329.4" cy="351.5" r="2.8" fill="#10c84a"/>
<circle cx="333.4" cy="354.9" r="2.8" fill="#0a7d8c"/>
<circle cx="342.4" cy="351.1" r="2.8" fill="#10c84a"/>
<circle cx="358.4" cy="348.5" r="2.8" fill="#10c84a"/>
<circle cx="360.6" cy="351.5" r="2.8" fill="#10c84a"/>
<circle cx="258.0" cy="363.9" r="2.8" fill="#10c84a"/>
<circle cx="261.0" cy="362.9" r="2.8" fill="#10c84a"/>
<circle cx="264.0" cy="361.9" r="2.8" fill="#0aa070"/>
<circle cx="266.0" cy="359.9" r="2.8" fill="#0aa070"/>
<circle cx="268.0" cy="364.9" r="2.8" fill="#0a7d8c"/>
<circle cx="270.0" cy="366.5" r="2.8" fill="#0a7d8c"/>
<circle cx="274.0" cy="363.9" r="2.8" fill="#0a7d8c"/>
<circle cx="280.6" cy="365.1" r="2.8" fill="#1414f0"/>
<circle cx="283.4" cy="362.3" r="2.8" fill="#0a7d8c"/>
<circle cx="286.0" cy="365.9" r="2.8" fill="#0a7d8c"/>
<circle cx="289.4" cy="362.9" r="2.8" fill="#0aa070"/>
<circle cx="293.0" cy="364.9" r="2.8" fill="#0aa070"/>
<circle cx="296.4" cy="365.5" r="2.8" fill="#0aa070"/>
<circle cx="304.2" cy="365.5" r="2.8" fill="#1050b8"/>
<circle cx="291.0" cy="371.5" r="2.8" fill="#7a0f9c"/>
<circle cx="257.0" cy="370.9" r="2.8" fill="#10c84a"/>
<circle cx="258.6" cy="374.5" r="2.8" fill="#10c84a"/>
<circle cx="255.0" cy="373.9" r="2.8" fill="#10c84a"/>
<circle cx="262.0" cy="370.5" r="2.8" fill="#1050b8"/>
<circle cx="264.6" cy="372.3" r="2.8" fill="#0aa070"/>
<circle cx="320.0" cy="364.9" r="2.8" fill="#1eea28"/>
<circle cx="325.0" cy="364.5" r="2.8" fill="#1eea28"/>
<circle cx="329.0" cy="367.9" r="2.8" fill="#0aa070"/>
<circle cx="332.0" cy="363.9" r="2.8" fill="#0aa070"/>
<circle cx="333.4" cy="369.3" r="2.8" fill="#1414f0"/>
<circle cx="339.0" cy="364.9" r="2.8" fill="#10c84a"/>
<circle cx="344.4" cy="364.9" r="2.8" fill="#1eea28"/>
<circle cx="353.0" cy="365.3" r="2.8" fill="#0aa070"/>
<circle cx="356.0" cy="364.5" r="2.8" fill="#10c84a"/>
<circle cx="362.0" cy="365.3" r="2.8" fill="#10c84a"/>
<circle cx="351.6" cy="374.9" r="2.8" fill="#0aa070"/>
<circle cx="372.6" cy="369.9" r="2.8" fill="#1eea28"/>
<circle cx="250.0" cy="393.9" r="2.8" fill="#f8a10e"/>
<circle cx="246.6" cy="397.3" r="2.8" fill="#0aa070"/>
<circle cx="262.0" cy="394.5" r="2.8" fill="#0a7d8c"/>
<circle cx="260.6" cy="397.3" r="2.8" fill="#ee1c25"/>
<circle cx="267.4" cy="396.7" r="2.8" fill="#f66a14"/>
<circle cx="321.4" cy="397.3" r="2.8" fill="#f66a14"/>
<circle cx="333.0" cy="393.3" r="2.8" fill="#1414f0"/>
<circle cx="331.6" cy="395.9" r="2.8" fill="#1414f0"/>
<circle cx="343.6" cy="397.1" r="2.8" fill="#10c84a"/>
<circle cx="390.0" cy="349.5" r="2.8" fill="#0a7d8c"/>
<circle cx="392.4" cy="364.5" r="2.8" fill="#1eea28"/>
<circle cx="420.0" cy="348.9" r="2.8" fill="#1eea28"/>
<circle cx="417.2" cy="353.3" r="2.8" fill="#1eea28"/>
<circle cx="421.4" cy="362.5" r="2.8" fill="#1eea28"/>
<circle cx="434.6" cy="361.7" r="2.8" fill="#0a7d8c"/>
<circle cx="457.0" cy="350.3" r="2.8" fill="#0a7d8c"/>
<circle cx="468.6" cy="350.3" r="2.8" fill="#0aa070"/>
<circle cx="470.4" cy="349.5" r="2.8" fill="#0aa070"/>
<circle cx="471.4" cy="364.3" r="2.8" fill="#0aa070"/>
<circle cx="467.4" cy="397.9" r="2.8" fill="#4a12c8"/>
<circle cx="535.6" cy="333.2" r="2.8" fill="#10c84a"/>
<circle cx="534.4" cy="339.1" r="2.8" fill="#0aa070"/>
<circle cx="551.3" cy="334.5" r="2.8" fill="#7a0f9c"/>
<circle cx="550.3" cy="340.0" r="2.8" fill="#1414f0"/>
<circle cx="513.4" cy="336.2" r="2.8" fill="#7a0f9c"/>
<circle cx="497.7" cy="337.2" r="2.8" fill="#ee1c25"/>
<circle cx="493.6" cy="338.5" r="2.8" fill="#0a7d8c"/>
<circle cx="492.3" cy="342.0" r="2.8" fill="#0a7d8c"/>
<circle cx="543.8" cy="341.4" r="2.8" fill="#c01446"/>
<circle cx="561.4" cy="342.3" r="2.8" fill="#ee1c25"/>
<circle cx="512.2" cy="343.8" r="2.8" fill="#c01446"/>
<circle cx="518.7" cy="343.5" r="2.8" fill="#7a0f9c"/>
<circle cx="494.8" cy="345.8" r="2.8" fill="#1414f0"/>
<circle cx="533.1" cy="345.4" r="2.8" fill="#0a7d8c"/>
<circle cx="530.6" cy="347.9" r="2.8" fill="#0a7d8c"/>
<circle cx="482.5" cy="349.5" r="2.8" fill="#7a0f9c"/>
<circle cx="486.7" cy="351.3" r="2.8" fill="#4a12c8"/>
<circle cx="491.1" cy="349.8" r="2.8" fill="#ee1c25"/>
<circle cx="495.5" cy="349.5" r="2.8" fill="#f66a14"/>
<circle cx="479.4" cy="354.6" r="2.8" fill="#0aa070"/>
<circle cx="501.1" cy="347.9" r="2.8" fill="#c01446"/>
<circle cx="503.0" cy="351.1" r="2.8" fill="#ee1c25"/>
<circle cx="499.9" cy="349.8" r="2.8" fill="#7a0f9c"/>
<circle cx="498.0" cy="353.9" r="2.8" fill="#7a0f9c"/>
<circle cx="509.3" cy="347.3" r="2.8" fill="#1414f0"/>
<circle cx="509.9" cy="351.1" r="2.8" fill="#1050b8"/>
<circle cx="509.3" cy="355.4" r="2.8" fill="#7a0f9c"/>
<circle cx="516.8" cy="347.3" r="2.8" fill="#1414f0"/>
<circle cx="516.2" cy="349.8" r="2.8" fill="#0aa070"/>
<circle cx="519.3" cy="351.1" r="2.8" fill="#0aa070"/>
<circle cx="519.9" cy="355.4" r="2.8" fill="#0aa070"/>
<circle cx="522.5" cy="347.9" r="2.8" fill="#10c84a"/>
<circle cx="525.6" cy="351.7" r="2.8" fill="#1414f0"/>
<circle cx="527.5" cy="347.9" r="2.8" fill="#7a0f9c"/>
<circle cx="531.2" cy="352.3" r="2.8" fill="#0a7d8c"/>
<circle cx="536.3" cy="350.4" r="2.8" fill="#7a0f9c"/>
<circle cx="539.4" cy="349.2" r="2.8" fill="#4a12c8"/>
<circle cx="541.3" cy="351.1" r="2.8" fill="#7a0f9c"/>
<circle cx="541.9" cy="347.3" r="2.8" fill="#f63c18"/>
<circle cx="545.1" cy="346.0" r="2.8" fill="#ee1c25"/>
<circle cx="550.7" cy="349.2" r="2.8" fill="#f8a10e"/>
<circle cx="554.5" cy="349.2" r="2.8" fill="#f66a14"/>
<circle cx="558.2" cy="349.8" r="2.8" fill="#f8a10e"/>
<circle cx="561.4" cy="349.2" r="2.8" fill="#f8a10e"/>
<circle cx="552.8" cy="360.5" r="2.8" fill="#f8a10e"/>
<circle cx="480.6" cy="365.9" r="2.8" fill="#1050b8"/>
<circle cx="495.1" cy="364.2" r="2.8" fill="#f8a10e"/>
<circle cx="505.5" cy="366.1" r="2.8" fill="#1414f0"/>
<circle cx="507.0" cy="364.9" r="2.8" fill="#4a12c8"/>
<circle cx="517.4" cy="365.2" r="2.8" fill="#0a7d8c"/>
<circle cx="491.1" cy="370.9" r="2.8" fill="#1414f0"/>
<circle cx="487.9" cy="371.1" r="2.8" fill="#7a0f9c"/>
<circle cx="501.7" cy="370.9" r="2.8" fill="#ee1c25"/>
<circle cx="529.4" cy="371.8" r="2.8" fill="#1414f0"/>
<circle cx="546.3" cy="370.1" r="2.8" fill="#f63c18"/>
<circle cx="551.3" cy="370.5" r="2.8" fill="#f8a10e"/>
<circle cx="554.5" cy="371.1" r="2.8" fill="#f8a10e"/>
<circle cx="558.2" cy="365.5" r="2.8" fill="#f8a10e"/>
<circle cx="561.4" cy="364.9" r="2.8" fill="#f8a10e"/>
<circle cx="494.2" cy="374.0" r="2.8" fill="#f8a10e"/>
<circle cx="532.5" cy="374.8" r="2.8" fill="#f8a10e"/>
<circle cx="548.6" cy="373.0" r="2.8" fill="#c01446"/>
<circle cx="556.4" cy="370.5" r="2.8" fill="#f8a10e"/>
<circle cx="521.4" cy="395.6" r="2.8" fill="#f8a10e"/>
<circle cx="549.1" cy="398.5" r="2.8" fill="#f8a10e"/>
<circle cx="561.8" cy="364.8" r="2.8" fill="#f66a14"/>
<circle cx="563.4" cy="339.1" r="2.8" fill="#ee1c25"/>
<circle cx="564.7" cy="346.0" r="2.8" fill="#f8a10e"/>
<circle cx="567.2" cy="347.9" r="2.8" fill="#f8a10e"/>
<circle cx="567.8" cy="351.7" r="2.8" fill="#f66a14"/>
<circle cx="136.7" cy="395.4" r="2.8" fill="#f8a10e"/>
<circle cx="138.7" cy="395.9" r="2.8" fill="#f8a10e"/>
<circle cx="159.4" cy="397.1" r="2.8" fill="#f8a10e"/>
<circle cx="175.4" cy="395.9" r="2.8" fill="#f8a10e"/>
<circle cx="183.1" cy="396.4" r="2.8" fill="#4a12c8"/>
<circle cx="198.8" cy="395.9" r="2.8" fill="#f8a10e"/>
<circle cx="238.5" cy="397.4" r="2.8" fill="#f8a10e"/>
<circle cx="242.8" cy="396.9" r="2.8" fill="#7a0f9c"/>
<circle cx="502.9" cy="254.9" r="2.8" fill="#f8a10e"/>
<circle cx="510.9" cy="289.3" r="2.8" fill="#ee1c25"/>
<circle cx="530.3" cy="303.6" r="2.8" fill="#f8a10e"/>
<circle cx="90.0" cy="347.2" r="2.8" fill="#f8a10e"/>
<circle cx="92.5" cy="352.4" r="2.8" fill="#ee1c25"/>
<circle cx="94.0" cy="350.2" r="2.8" fill="#7a0f9c"/>
<circle cx="97.0" cy="350.2" r="2.8" fill="#4a12c8"/>
<circle cx="99.2" cy="350.4" r="2.8" fill="#1414f0"/>
<circle cx="100.5" cy="364.9" r="2.8" fill="#7a0f9c"/>
<circle cx="156.8" cy="350.9" r="2.8" fill="#c01446"/>
<circle cx="158.5" cy="350.9" r="2.8" fill="#c01446"/>
<circle cx="203.2" cy="323.4" r="2.8" fill="#4a12c8"/>
<circle cx="205.8" cy="346.2" r="2.8" fill="#4a12c8"/>
<circle cx="209.5" cy="349.4" r="2.8" fill="#ee1c25"/>
<circle cx="207.0" cy="352.6" r="2.8" fill="#c01446"/>
<circle cx="211.2" cy="350.9" r="2.8" fill="#f8a10e"/>
<circle cx="208.5" cy="395.9" r="2.8" fill="#f8a10e"/>
<circle cx="275.5" cy="246.4" r="2.8" fill="#f8a10e"/>
<circle cx="304.5" cy="248.2" r="2.8" fill="#1414f0"/>
<circle cx="346.5" cy="246.4" r="2.8" fill="#f8a10e"/>
<circle cx="276.5" cy="301.2" r="2.8" fill="#f8a10e"/>
<circle cx="278.0" cy="302.9" r="2.8" fill="#f8a10e"/>
<circle cx="280.5" cy="307.2" r="2.8" fill="#1414f0"/>
<circle cx="279.2" cy="319.6" r="2.8" fill="#7a0f9c"/>
<circle cx="281.8" cy="324.6" r="2.8" fill="#ee1c25"/>
<circle cx="313.5" cy="314.9" r="2.8" fill="#0a7d8c"/>
<circle cx="312.0" cy="320.4" r="2.8" fill="#f66a14"/>
<circle cx="320.2" cy="320.9" r="2.8" fill="#f8a10e"/>
<circle cx="355.5" cy="311.9" r="2.8" fill="#4a12c8"/>
<circle cx="404.5" cy="327.2" r="2.8" fill="#1eea28"/>
<circle cx="254.4" cy="351.0" r="2.8" fill="#0aa070"/>
<circle cx="261.0" cy="350.0" r="2.8" fill="#0a7d8c"/>
<circle cx="265.0" cy="349.8" r="2.8" fill="#10c84a"/>
<circle cx="266.4" cy="348.0" r="2.8" fill="#1eea28"/>
<circle cx="271.2" cy="349.8" r="2.8" fill="#1414f0"/>
<circle cx="280.4" cy="344.6" r="2.8" fill="#0a7d8c"/>
<circle cx="286.0" cy="351.4" r="2.8" fill="#0a7d8c"/>
<circle cx="287.2" cy="353.0" r="2.8" fill="#0aa070"/>
<circle cx="291.4" cy="351.0" r="2.8" fill="#1414f0"/>
<circle cx="293.2" cy="350.4" r="2.8" fill="#1414f0"/>
<circle cx="295.6" cy="352.0" r="2.8" fill="#0aa070"/>
<circle cx="301.6" cy="348.8" r="2.8" fill="#7a0f9c"/>
<circle cx="309.2" cy="348.4" r="2.8" fill="#1eea28"/>
<circle cx="309.6" cy="351.2" r="2.8" fill="#1eea28"/>
<circle cx="308.4" cy="350.4" r="2.8" fill="#1eea28"/>
<circle cx="316.0" cy="351.6" r="2.8" fill="#1414f0"/>
<circle cx="324.4" cy="350.4" r="2.8" fill="#0aa070"/>
<circle cx="326.0" cy="348.8" r="2.8" fill="#10c84a"/>
<circle cx="325.0" cy="352.4" r="2.8" fill="#0aa070"/>
<circle cx="338.4" cy="349.6" r="2.8" fill="#0a7d8c"/>
<circle cx="347.4" cy="344.4" r="2.8" fill="#1eea28"/>
<circle cx="346.4" cy="350.6" r="2.8" fill="#1eea28"/>
<circle cx="359.6" cy="348.0" r="2.8" fill="#10c84a"/>
<circle cx="362.0" cy="349.8" r="2.8" fill="#0aa070"/>
<circle cx="364.0" cy="352.0" r="2.8" fill="#0aa070"/>
<circle cx="367.4" cy="348.0" r="2.8" fill="#7a0f9c"/>
<circle cx="375.4" cy="349.0" r="2.8" fill="#f8a10e"/>
<circle cx="376.0" cy="354.4" r="2.8" fill="#1eea28"/>
<circle cx="375.6" cy="356.0" r="2.8" fill="#1eea28"/>
<circle cx="382.0" cy="348.0" r="2.8" fill="#10c84a"/>
<circle cx="384.4" cy="347.6" r="2.8" fill="#1eea28"/>
<circle cx="383.6" cy="352.0" r="2.8" fill="#1414f0"/>
<circle cx="379.6" cy="358.4" r="2.8" fill="#0a7d8c"/>
<circle cx="256.6" cy="365.8" r="2.8" fill="#0a7d8c"/>
<circle cx="274.0" cy="361.4" r="2.8" fill="#1414f0"/>
<circle cx="275.6" cy="364.4" r="2.8" fill="#1050b8"/>
<circle cx="278.0" cy="366.4" r="2.8" fill="#1414f0"/>
<circle cx="286.0" cy="370.0" r="2.8" fill="#f8a10e"/>
<circle cx="288.0" cy="371.4" r="2.8" fill="#f8a10e"/>
<circle cx="290.0" cy="372.0" r="2.8" fill="#f8a10e"/>
<circle cx="297.6" cy="366.0" r="2.8" fill="#ee1c25"/>
<circle cx="299.2" cy="372.8" r="2.8" fill="#ee1c25"/>
<circle cx="298.4" cy="371.4" r="2.8" fill="#f8a10e"/>
<circle cx="300.4" cy="360.0" r="2.8" fill="#1414f0"/>
<circle cx="300.6" cy="362.4" r="2.8" fill="#1414f0"/>
<circle cx="303.0" cy="367.4" r="2.8" fill="#0a7d8c"/>
<circle cx="306.0" cy="364.0" r="2.8" fill="#0aa070"/>
<circle cx="305.4" cy="372.8" r="2.8" fill="#1414f0"/>
<circle cx="309.6" cy="372.8" r="2.8" fill="#0a7d8c"/>
<circle cx="311.0" cy="363.4" r="2.8" fill="#0aa070"/>
<circle cx="314.0" cy="365.8" r="2.8" fill="#0aa070"/>
<circle cx="316.6" cy="363.4" r="2.8" fill="#0aa070"/>
<circle cx="319.0" cy="364.8" r="2.8" fill="#0a7d8c"/>
<circle cx="322.4" cy="367.4" r="2.8" fill="#1414f0"/>
<circle cx="322.0" cy="372.8" r="2.8" fill="#0aa070"/>
<circle cx="329.4" cy="362.8" r="2.8" fill="#10c84a"/>
<circle cx="335.6" cy="363.0" r="2.8" fill="#7a0f9c"/>
<circle cx="349.4" cy="364.0" r="2.8" fill="#10c84a"/>
<circle cx="352.0" cy="366.0" r="2.8" fill="#10c84a"/>
<circle cx="355.0" cy="366.4" r="2.8" fill="#1eea28"/>
<circle cx="357.0" cy="367.0" r="2.8" fill="#10c84a"/>
<circle cx="354.0" cy="372.0" r="2.8" fill="#f8a10e"/>
<circle cx="357.0" cy="372.8" r="2.8" fill="#7a0f9c"/>
<circle cx="358.0" cy="371.0" r="2.8" fill="#1414f0"/>
<circle cx="363.4" cy="376.4" r="2.8" fill="#0aa070"/>
<circle cx="363.6" cy="363.4" r="2.8" fill="#0a7d8c"/>
<circle cx="366.0" cy="364.8" r="2.8" fill="#0aa070"/>
<circle cx="370.0" cy="364.4" r="2.8" fill="#0aa070"/>
<circle cx="372.0" cy="366.4" r="2.8" fill="#10c84a"/>
<circle cx="374.4" cy="368.4" r="2.8" fill="#1eea28"/>
<circle cx="378.0" cy="363.4" r="2.8" fill="#1eea28"/>
<circle cx="381.0" cy="362.4" r="2.8" fill="#1eea28"/>
<circle cx="380.0" cy="366.0" r="2.8" fill="#1eea28"/>
<circle cx="385.0" cy="362.4" r="2.8" fill="#0aa070"/>
<circle cx="378.0" cy="373.0" r="2.8" fill="#7a0f9c"/>
<circle cx="381.0" cy="371.4" r="2.8" fill="#0a7d8c"/>
<circle cx="382.4" cy="369.4" r="2.8" fill="#0a7d8c"/>
<circle cx="255.6" cy="399.4" r="2.8" fill="#1414f0"/>
<circle cx="262.4" cy="396.4" r="2.8" fill="#7a0f9c"/>
<circle cx="263.6" cy="394.0" r="2.8" fill="#7a0f9c"/>
<circle cx="282.0" cy="397.0" r="2.8" fill="#f8a10e"/>
<circle cx="283.0" cy="395.4" r="2.8" fill="#f66a14"/>
<circle cx="284.4" cy="393.4" r="2.8" fill="#f8a10e"/>
<circle cx="296.4" cy="395.8" r="2.8" fill="#f8a10e"/>
<circle cx="301.6" cy="394.8" r="2.8" fill="#f8a10e"/>
<circle cx="303.0" cy="397.4" r="2.8" fill="#f8a10e"/>
<circle cx="312.0" cy="396.4" r="2.8" fill="#ee1c25"/>
<circle cx="315.0" cy="398.0" r="2.8" fill="#f66a14"/>
<circle cx="317.0" cy="395.4" r="2.8" fill="#f66a14"/>
<circle cx="319.0" cy="396.0" r="2.8" fill="#f8a10e"/>
<circle cx="322.6" cy="395.8" r="2.8" fill="#f8a10e"/>
<circle cx="344.0" cy="396.0" r="2.8" fill="#f8a10e"/>
<circle cx="347.6" cy="400.4" r="2.8" fill="#f8a10e"/>
<circle cx="353.0" cy="406.4" r="2.8" fill="#f8a10e"/>
<circle cx="342.6" cy="410.8" r="2.8" fill="#f8a10e"/>
<circle cx="350.0" cy="413.4" r="2.8" fill="#f8a10e"/>
<circle cx="295.0" cy="411.0" r="2.8" fill="#f8a10e"/>
<circle cx="369.6" cy="399.4" r="2.8" fill="#f8a10e"/>
<circle cx="371.0" cy="396.4" r="2.8" fill="#f8a10e"/>
<circle cx="376.0" cy="394.4" r="2.8" fill="#f8a10e"/>
<circle cx="378.0" cy="398.4" r="2.8" fill="#1414f0"/>
<circle cx="368.4" cy="398.0" r="2.8" fill="#7a0f9c"/>
<circle cx="374.0" cy="411.4" r="2.8" fill="#f8a10e"/>
<circle cx="385.6" cy="398.4" r="2.8" fill="#0aa070"/>
<circle cx="388.0" cy="350.4" r="2.8" fill="#1eea28"/>
<circle cx="390.0" cy="351.4" r="2.8" fill="#1eea28"/>
<circle cx="393.0" cy="350.4" r="2.8" fill="#10c84a"/>
<circle cx="395.4" cy="346.8" r="2.8" fill="#10c84a"/>
<circle cx="397.0" cy="344.8" r="2.8" fill="#0aa070"/>
<circle cx="393.0" cy="354.4" r="2.8" fill="#1414f0"/>
<circle cx="401.4" cy="344.0" r="2.8" fill="#f8a10e"/>
<circle cx="410.6" cy="350.8" r="2.8" fill="#1eea28"/>
<circle cx="414.0" cy="348.0" r="2.8" fill="#f8a10e"/>
<circle cx="417.4" cy="351.6" r="2.8" fill="#1414f0"/>
<circle cx="422.6" cy="349.8" r="2.8" fill="#1eea28"/>
<circle cx="425.4" cy="344.8" r="2.8" fill="#1414f0"/>
<circle cx="430.6" cy="348.0" r="2.8" fill="#0aa070"/>
<circle cx="432.0" cy="350.4" r="2.8" fill="#1414f0"/>
<circle cx="437.0" cy="349.8" r="2.8" fill="#10c84a"/>
<circle cx="449.0" cy="348.8" r="2.8" fill="#f8a10e"/>
<circle cx="451.4" cy="349.8" r="2.8" fill="#c01446"/>
<circle cx="451.0" cy="340.4" r="2.8" fill="#c01446"/>
<circle cx="459.4" cy="352.0" r="2.8" fill="#4a12c8"/>
<circle cx="460.6" cy="349.8" r="2.8" fill="#1414f0"/>
<circle cx="462.0" cy="348.0" r="2.8" fill="#1414f0"/>
<circle cx="465.0" cy="349.8" r="2.8" fill="#f8a10e"/>
<circle cx="464.0" cy="341.8" r="2.8" fill="#f8a10e"/>
<circle cx="463.0" cy="340.8" r="2.8" fill="#7a0f9c"/>
<circle cx="471.4" cy="348.8" r="2.8" fill="#f8a10e"/>
<circle cx="475.4" cy="345.4" r="2.8" fill="#7a0f9c"/>
<circle cx="479.0" cy="349.8" r="2.8" fill="#4a12c8"/>
<circle cx="480.6" cy="346.8" r="2.8" fill="#1414f0"/>
<circle cx="476.6" cy="337.4" r="2.8" fill="#1414f0"/>
<circle cx="482.0" cy="338.8" r="2.8" fill="#1050b8"/>
<circle cx="484.4" cy="341.4" r="2.8" fill="#7a0f9c"/>
<circle cx="483.6" cy="332.4" r="2.8" fill="#c01446"/>
<circle cx="486.0" cy="335.4" r="2.8" fill="#ee1c25"/>
<circle cx="484.4" cy="358.4" r="2.8" fill="#1050b8"/>
<circle cx="489.6" cy="349.0" r="2.8" fill="#0aa070"/>
<circle cx="491.0" cy="352.0" r="2.8" fill="#0aa070"/>
<circle cx="492.0" cy="346.4" r="2.8" fill="#1050b8"/>
<circle cx="496.0" cy="346.4" r="2.8" fill="#f66a14"/>
<circle cx="500.4" cy="346.0" r="2.8" fill="#ee1c25"/>
<circle cx="503.0" cy="348.0" r="2.8" fill="#f8a10e"/>
<circle cx="505.0" cy="349.4" r="2.8" fill="#1050b8"/>
<circle cx="508.0" cy="348.4" r="2.8" fill="#1414f0"/>
<circle cx="521.6" cy="350.4" r="2.8" fill="#7a0f9c"/>
<circle cx="387.0" cy="364.8" r="2.8" fill="#7a0f9c"/>
<circle cx="390.0" cy="362.0" r="2.8" fill="#1eea28"/>
<circle cx="393.0" cy="363.4" r="2.8" fill="#1eea28"/>
<circle cx="396.0" cy="364.0" r="2.8" fill="#1eea28"/>
<circle cx="399.0" cy="364.4" r="2.8" fill="#1eea28"/>
<circle cx="401.6" cy="364.8" r="2.8" fill="#1eea28"/>
<circle cx="419.0" cy="363.4" r="2.8" fill="#0a7d8c"/>
<circle cx="421.4" cy="364.8" r="2.8" fill="#0aa070"/>
<circle cx="416.0" cy="369.4" r="2.8" fill="#ee1c25"/>
<circle cx="414.6" cy="371.8" r="2.8" fill="#ee1c25"/>
<circle cx="439.6" cy="362.8" r="2.8" fill="#0aa070"/>
<circle cx="443.0" cy="369.4" r="2.8" fill="#f8a10e"/>
<circle cx="444.6" cy="372.4" r="2.8" fill="#ee1c25"/>
<circle cx="446.4" cy="367.8" r="2.8" fill="#7a0f9c"/>
<circle cx="450.0" cy="372.0" r="2.8" fill="#f8a10e"/>
<circle cx="457.0" cy="370.0" r="2.8" fill="#c01446"/>
<circle cx="459.4" cy="366.8" r="2.8" fill="#c01446"/>
<circle cx="469.8" cy="372.0" r="2.8" fill="#f8a10e"/>
<circle cx="395.0" cy="396.0" r="2.8" fill="#f8a10e"/>
<circle cx="397.4" cy="396.4" r="2.8" fill="#f8a10e"/>
<circle cx="399.0" cy="397.4" r="2.8" fill="#1050b8"/>
<circle cx="405.0" cy="396.0" r="2.8" fill="#0a7d8c"/>
<circle cx="406.6" cy="394.4" r="2.8" fill="#7a0f9c"/>
<circle cx="408.6" cy="396.4" r="2.8" fill="#0a7d8c"/>
<circle cx="413.6" cy="396.4" r="2.8" fill="#0a7d8c"/>
<circle cx="420.0" cy="396.8" r="2.8" fill="#c01446"/>
<circle cx="429.4" cy="394.4" r="2.8" fill="#f8a10e"/>
<circle cx="431.4" cy="401.4" r="2.8" fill="#f8a10e"/>
<circle cx="433.0" cy="399.4" r="2.8" fill="#7a0f9c"/>
<circle cx="437.0" cy="396.0" r="2.8" fill="#f8a10e"/>
<circle cx="447.6" cy="397.4" r="2.8" fill="#f8a10e"/>
<circle cx="455.4" cy="396.8" r="2.8" fill="#f8a10e"/>
<circle cx="458.4" cy="397.4" r="2.8" fill="#f8a10e"/>
<circle cx="466.0" cy="392.4" r="2.8" fill="#f8a10e"/>
<circle cx="472.6" cy="397.4" r="2.8" fill="#f8a10e"/>
<circle cx="475.4" cy="396.4" r="2.8" fill="#f8a10e"/>
<circle cx="501.6" cy="397.0" r="2.8" fill="#f8a10e"/>
<circle cx="424.0" cy="412.0" r="2.8" fill="#1050b8"/>
<circle cx="466.0" cy="412.8" r="2.8" fill="#f66a14"/>
<circle cx="470.0" cy="411.4" r="2.8" fill="#f8a10e"/>
<circle cx="531.6" cy="336.0" r="2.8" fill="#f8a10e"/>
<circle cx="526.6" cy="345.4" r="2.8" fill="#1414f0"/>
<circle cx="528.4" cy="350.4" r="2.8" fill="#1414f0"/>
<circle cx="533.0" cy="351.0" r="2.8" fill="#f66a14"/>
<circle cx="547.6" cy="348.4" r="2.8" fill="#7a0f9c"/>
<circle cx="551.0" cy="351.0" r="2.8" fill="#f8a10e"/>
<circle cx="553.4" cy="350.4" r="2.8" fill="#f8a10e"/>
<circle cx="545.0" cy="356.4" r="2.8" fill="#7a0f9c"/>
<circle cx="541.4" cy="360.4" r="2.8" fill="#7a0f9c"/>
<circle cx="539.6" cy="364.8" r="2.8" fill="#4a12c8"/>
<circle cx="530.4" cy="369.4" r="2.8" fill="#c01446"/>
<circle cx="537.0" cy="372.8" r="2.8" fill="#1414f0"/>
<circle cx="566.0" cy="352.0" r="2.8" fill="#f66a14"/>
<circle cx="567.6" cy="350.0" r="2.8" fill="#f8a10e"/>
<circle cx="563.6" cy="330.4" r="2.8" fill="#f8a10e"/>
<circle cx="472.8" cy="302.2" r="2.8" fill="#f8a10e"/>
<circle cx="425.2" cy="321.6" r="2.8" fill="#0aa070"/>
<circle cx="433.2" cy="322.9" r="2.8" fill="#c01446"/>
<circle cx="435.2" cy="326.6" r="2.8" fill="#f8a10e"/>
<circle cx="444.0" cy="324.2" r="2.8" fill="#f8a10e"/>
<circle cx="446.0" cy="324.6" r="2.8" fill="#f8a10e"/>
<circle cx="452.8" cy="322.4" r="2.8" fill="#f8a10e"/>
<circle cx="456.5" cy="319.6" r="2.8" fill="#f8a10e"/>
<circle cx="464.0" cy="322.2" r="2.8" fill="#f8a10e"/>
<circle cx="462.2" cy="324.9" r="2.8" fill="#c01446"/>
<circle cx="488.2" cy="325.4" r="2.8" fill="#ee1c25"/>
<circle cx="497.8" cy="321.6" r="2.8" fill="#f8a10e"/>
<circle cx="499.0" cy="323.6" r="2.8" fill="#f8a10e"/>
<circle cx="534.5" cy="324.6" r="2.8" fill="#f8a10e"/>
<circle cx="562.2" cy="321.2" r="2.8" fill="#f8a10e"/>
<circle cx="563.5" cy="327.9" r="2.8" fill="#f66a14"/>
<circle cx="484.5" cy="341.2" r="2.8" fill="#7a0f9c"/>
<circle cx="481.5" cy="338.6" r="2.8" fill="#1050b8"/>
</g>
<path d="M87.8 243.7H572.1" stroke="#000" stroke-width="1.4"/>
<clipPath id="cpc"><rect x="84.5" y="455.1" width="490.9" height="183.8"/></clipPath>
<g clip-path="url(#cpc)">
<circle cx="116.0" cy="461.5" r="2.8" fill="#f8a10e"/>
<circle cx="172.4" cy="458.0" r="2.8" fill="#c01446"/>
<circle cx="214.8" cy="470.0" r="2.8" fill="#f8a10e"/>
<circle cx="237.3" cy="512.9" r="2.8" fill="#f8a10e"/>
<circle cx="235.8" cy="526.4" r="2.8" fill="#c01446"/>
<circle cx="105.5" cy="534.9" r="2.8" fill="#1414f0"/>
<circle cx="130.7" cy="531.4" r="2.8" fill="#f8a10e"/>
<circle cx="118.8" cy="544.3" r="2.8" fill="#f8a10e"/>
<circle cx="131.9" cy="544.3" r="2.8" fill="#f8a10e"/>
<circle cx="113.7" cy="547.4" r="2.8" fill="#f8a10e"/>
<circle cx="112.5" cy="550.3" r="2.8" fill="#f8a10e"/>
<circle cx="121.6" cy="550.3" r="2.8" fill="#f8a10e"/>
<circle cx="122.9" cy="552.4" r="2.8" fill="#f8a10e"/>
<circle cx="117.5" cy="553.7" r="2.8" fill="#f8a10e"/>
<circle cx="116.6" cy="556.8" r="2.8" fill="#f8a10e"/>
<circle cx="136.0" cy="551.6" r="2.8" fill="#f66a14"/>
<circle cx="163.3" cy="546.5" r="2.8" fill="#f8a10e"/>
<circle cx="165.2" cy="547.4" r="2.8" fill="#f8a10e"/>
<circle cx="169.9" cy="551.8" r="2.8" fill="#f8a10e"/>
<circle cx="103.1" cy="557.1" r="2.8" fill="#f63c18"/>
<circle cx="133.4" cy="557.1" r="2.8" fill="#f66a14"/>
<circle cx="112.1" cy="558.1" r="2.8" fill="#7a0f9c"/>
<circle cx="109.3" cy="558.7" r="2.8" fill="#f8a10e"/>
<circle cx="98.0" cy="562.5" r="2.8" fill="#f8a10e"/>
<circle cx="104.3" cy="564.1" r="2.8" fill="#7a0f9c"/>
<circle cx="100.3" cy="567.9" r="2.8" fill="#7a0f9c"/>
<circle cx="101.8" cy="568.1" r="2.8" fill="#f63c18"/>
<circle cx="108.1" cy="561.2" r="2.8" fill="#f8a10e"/>
<circle cx="110.3" cy="562.1" r="2.8" fill="#f8a10e"/>
<circle cx="109.3" cy="565.9" r="2.8" fill="#ee1c25"/>
<circle cx="113.7" cy="564.6" r="2.8" fill="#4a12c8"/>
<circle cx="116.9" cy="560.6" r="2.8" fill="#f8a10e"/>
<circle cx="120.9" cy="566.6" r="2.8" fill="#7a0f9c"/>
<circle cx="122.5" cy="561.9" r="2.8" fill="#f66a14"/>
<circle cx="124.7" cy="561.6" r="2.8" fill="#ee1c25"/>
<circle cx="123.8" cy="563.7" r="2.8" fill="#f63c18"/>
<circle cx="125.4" cy="567.5" r="2.8" fill="#f8a10e"/>
<circle cx="133.2" cy="567.1" r="2.8" fill="#f8a10e"/>
<circle cx="135.1" cy="561.9" r="2.8" fill="#f8a10e"/>
<circle cx="137.6" cy="562.5" r="2.8" fill="#f8a10e"/>
<circle cx="139.5" cy="561.2" r="2.8" fill="#f8a10e"/>
<circle cx="143.2" cy="563.7" r="2.8" fill="#f66a14"/>
<circle cx="145.8" cy="563.1" r="2.8" fill="#f66a14"/>
<circle cx="143.2" cy="561.9" r="2.8" fill="#ee1c25"/>
<circle cx="150.1" cy="561.9" r="2.8" fill="#c01446"/>
<circle cx="149.5" cy="564.4" r="2.8" fill="#c01446"/>
<circle cx="155.2" cy="562.5" r="2.8" fill="#c01446"/>
<circle cx="158.1" cy="567.9" r="2.8" fill="#1414f0"/>
<circle cx="161.4" cy="561.9" r="2.8" fill="#f66a14"/>
<circle cx="164.6" cy="565.0" r="2.8" fill="#ee1c25"/>
<circle cx="166.5" cy="558.1" r="2.8" fill="#f8a10e"/>
<circle cx="167.1" cy="561.2" r="2.8" fill="#f8a10e"/>
<circle cx="172.4" cy="557.1" r="2.8" fill="#7a0f9c"/>
<circle cx="172.1" cy="562.5" r="2.8" fill="#ee1c25"/>
<circle cx="173.4" cy="561.2" r="2.8" fill="#ee1c25"/>
<circle cx="173.1" cy="567.9" r="2.8" fill="#4a12c8"/>
<circle cx="96.5" cy="581.9" r="2.8" fill="#f8a10e"/>
<circle cx="103.1" cy="577.5" r="2.8" fill="#4a12c8"/>
<circle cx="108.1" cy="577.9" r="2.8" fill="#f66a14"/>
<circle cx="106.8" cy="581.3" r="2.8" fill="#f8a10e"/>
<circle cx="109.3" cy="583.2" r="2.8" fill="#f8a10e"/>
<circle cx="114.4" cy="579.2" r="2.8" fill="#f8a10e"/>
<circle cx="113.7" cy="581.9" r="2.8" fill="#f8a10e"/>
<circle cx="120.0" cy="576.3" r="2.8" fill="#f8a10e"/>
<circle cx="118.1" cy="582.9" r="2.8" fill="#f8a10e"/>
<circle cx="121.3" cy="581.3" r="2.8" fill="#f8a10e"/>
<circle cx="125.0" cy="581.9" r="2.8" fill="#f8a10e"/>
<circle cx="126.3" cy="584.7" r="2.8" fill="#f8a10e"/>
<circle cx="129.4" cy="577.2" r="2.8" fill="#7a0f9c"/>
<circle cx="130.1" cy="581.3" r="2.8" fill="#f66a14"/>
<circle cx="129.2" cy="583.4" r="2.8" fill="#f66a14"/>
<circle cx="133.8" cy="580.7" r="2.8" fill="#f66a14"/>
<circle cx="136.3" cy="582.6" r="2.8" fill="#f66a14"/>
<circle cx="136.7" cy="577.2" r="2.8" fill="#c01446"/>
<circle cx="139.7" cy="575.7" r="2.8" fill="#4a12c8"/>
<circle cx="143.9" cy="576.9" r="2.8" fill="#f66a14"/>
<circle cx="142.2" cy="581.3" r="2.8" fill="#7a0f9c"/>
<circle cx="152.0" cy="576.3" r="2.8" fill="#ee1c25"/>
<circle cx="152.7" cy="578.4" r="2.8" fill="#ee1c25"/>
<circle cx="157.1" cy="575.7" r="2.8" fill="#1050b8"/>
<circle cx="148.3" cy="583.4" r="2.8" fill="#c01446"/>
<circle cx="154.3" cy="584.2" r="2.8" fill="#f66a14"/>
<circle cx="156.8" cy="581.7" r="2.8" fill="#f8a10e"/>
<circle cx="160.8" cy="579.4" r="2.8" fill="#ee1c25"/>
<circle cx="162.1" cy="583.4" r="2.8" fill="#f8a10e"/>
<circle cx="165.8" cy="583.8" r="2.8" fill="#7a0f9c"/>
<circle cx="168.6" cy="585.5" r="2.8" fill="#f63c18"/>
<circle cx="176.5" cy="554.1" r="2.8" fill="#4a12c8"/>
<circle cx="188.6" cy="554.3" r="2.8" fill="#1414f0"/>
<circle cx="220.0" cy="549.9" r="2.8" fill="#f66a14"/>
<circle cx="179.4" cy="561.9" r="2.8" fill="#7a0f9c"/>
<circle cx="181.9" cy="560.8" r="2.8" fill="#4a12c8"/>
<circle cx="177.5" cy="563.7" r="2.8" fill="#1050b8"/>
<circle cx="186.1" cy="558.7" r="2.8" fill="#0a7d8c"/>
<circle cx="186.9" cy="562.5" r="2.8" fill="#0a7d8c"/>
<circle cx="192.3" cy="565.6" r="2.8" fill="#7a0f9c"/>
<circle cx="192.6" cy="561.2" r="2.8" fill="#f8a10e"/>
<circle cx="197.4" cy="562.1" r="2.8" fill="#f63c18"/>
<circle cx="184.4" cy="569.4" r="2.8" fill="#1050b8"/>
<circle cx="202.9" cy="559.6" r="2.8" fill="#1414f0"/>
<circle cx="205.8" cy="563.1" r="2.8" fill="#0aa070"/>
<circle cx="208.3" cy="561.6" r="2.8" fill="#0aa070"/>
<circle cx="213.3" cy="567.5" r="2.8" fill="#ee1c25"/>
<circle cx="213.9" cy="560.6" r="2.8" fill="#f66a14"/>
<circle cx="212.7" cy="563.1" r="2.8" fill="#f8a10e"/>
<circle cx="218.3" cy="556.8" r="2.8" fill="#f8a10e"/>
<circle cx="217.1" cy="558.7" r="2.8" fill="#f8a10e"/>
<circle cx="218.7" cy="561.2" r="2.8" fill="#7a0f9c"/>
<circle cx="219.0" cy="569.4" r="2.8" fill="#0aa070"/>
<circle cx="222.1" cy="563.1" r="2.8" fill="#0a7d8c"/>
<circle cx="225.0" cy="561.2" r="2.8" fill="#4a12c8"/>
<circle cx="226.5" cy="564.6" r="2.8" fill="#c01446"/>
<circle cx="244.1" cy="562.5" r="2.8" fill="#10c84a"/>
<circle cx="246.0" cy="561.9" r="2.8" fill="#10c84a"/>
<circle cx="249.1" cy="565.9" r="2.8" fill="#1414f0"/>
<circle cx="255.8" cy="566.2" r="2.8" fill="#1414f0"/>
<circle cx="179.4" cy="577.5" r="2.8" fill="#1414f0"/>
<circle cx="183.2" cy="575.7" r="2.8" fill="#f8a10e"/>
<circle cx="190.1" cy="578.2" r="2.8" fill="#7a0f9c"/>
<circle cx="195.7" cy="576.3" r="2.8" fill="#f8a10e"/>
<circle cx="195.1" cy="579.4" r="2.8" fill="#f8a10e"/>
<circle cx="191.3" cy="583.4" r="2.8" fill="#f8a10e"/>
<circle cx="180.7" cy="583.2" r="2.8" fill="#f8a10e"/>
<circle cx="176.3" cy="585.5" r="2.8" fill="#1414f0"/>
<circle cx="183.2" cy="583.8" r="2.8" fill="#c01446"/>
<circle cx="187.3" cy="586.3" r="2.8" fill="#7a0f9c"/>
<circle cx="200.5" cy="576.7" r="2.8" fill="#1414f0"/>
<circle cx="207.0" cy="573.4" r="2.8" fill="#10c84a"/>
<circle cx="204.5" cy="578.4" r="2.8" fill="#c01446"/>
<circle cx="212.3" cy="576.9" r="2.8" fill="#ee1c25"/>
<circle cx="202.9" cy="584.5" r="2.8" fill="#ee1c25"/>
<circle cx="210.8" cy="581.9" r="2.8" fill="#f66a14"/>
<circle cx="213.6" cy="583.4" r="2.8" fill="#ee1c25"/>
<circle cx="220.2" cy="575.7" r="2.8" fill="#1414f0"/>
<circle cx="223.7" cy="576.3" r="2.8" fill="#1414f0"/>
<circle cx="231.9" cy="574.8" r="2.8" fill="#4a12c8"/>
<circle cx="229.0" cy="584.2" r="2.8" fill="#f8a10e"/>
<circle cx="228.4" cy="582.2" r="2.8" fill="#0aa070"/>
<circle cx="232.4" cy="586.3" r="2.8" fill="#4a12c8"/>
<circle cx="235.9" cy="578.8" r="2.8" fill="#0a7d8c"/>
<circle cx="237.2" cy="575.7" r="2.8" fill="#0aa070"/>
<circle cx="240.3" cy="575.4" r="2.8" fill="#0aa070"/>
<circle cx="237.2" cy="583.8" r="2.8" fill="#c01446"/>
<circle cx="242.2" cy="579.4" r="2.8" fill="#0aa070"/>
<circle cx="244.1" cy="578.2" r="2.8" fill="#0aa070"/>
<circle cx="247.8" cy="575.0" r="2.8" fill="#1050b8"/>
<circle cx="250.4" cy="575.7" r="2.8" fill="#0a7d8c"/>
<circle cx="252.9" cy="577.5" r="2.8" fill="#0aa070"/>
<circle cx="255.4" cy="575.7" r="2.8" fill="#10c84a"/>
<circle cx="252.2" cy="583.2" r="2.8" fill="#f66a14"/>
<circle cx="254.4" cy="585.7" r="2.8" fill="#10c84a"/>
<circle cx="255.4" cy="582.6" r="2.8" fill="#10c84a"/>
<circle cx="268.6" cy="564.0" r="2.8" fill="#0a7d8c"/>
<circle cx="271.6" cy="563.6" r="2.8" fill="#0a7d8c"/>
<circle cx="275.4" cy="559.4" r="2.8" fill="#0a7d8c"/>
<circle cx="276.6" cy="564.0" r="2.8" fill="#0a7d8c"/>
<circle cx="282.0" cy="562.4" r="2.8" fill="#1050b8"/>
<circle cx="284.6" cy="559.4" r="2.8" fill="#1050b8"/>
<circle cx="292.4" cy="564.0" r="2.8" fill="#1050b8"/>
<circle cx="307.0" cy="563.4" r="2.8" fill="#0a7d8c"/>
<circle cx="329.4" cy="563.6" r="2.8" fill="#10c84a"/>
<circle cx="333.4" cy="567.0" r="2.8" fill="#0a7d8c"/>
<circle cx="342.4" cy="563.2" r="2.8" fill="#10c84a"/>
<circle cx="358.4" cy="560.6" r="2.8" fill="#10c84a"/>
<circle cx="360.6" cy="563.6" r="2.8" fill="#10c84a"/>
<circle cx="258.0" cy="576.0" r="2.8" fill="#10c84a"/>
<circle cx="261.0" cy="575.0" r="2.8" fill="#10c84a"/>
<circle cx="264.0" cy="574.0" r="2.8" fill="#0aa070"/>
<circle cx="266.0" cy="572.0" r="2.8" fill="#0aa070"/>
<circle cx="268.0" cy="577.0" r="2.8" fill="#0a7d8c"/>
<circle cx="270.0" cy="578.6" r="2.8" fill="#0a7d8c"/>
<circle cx="274.0" cy="576.0" r="2.8" fill="#0a7d8c"/>
<circle cx="280.6" cy="577.2" r="2.8" fill="#1414f0"/>
<circle cx="283.4" cy="574.4" r="2.8" fill="#0a7d8c"/>
<circle cx="286.0" cy="578.0" r="2.8" fill="#0a7d8c"/>
<circle cx="289.4" cy="575.0" r="2.8" fill="#0aa070"/>
<circle cx="293.0" cy="577.0" r="2.8" fill="#0aa070"/>
<circle cx="296.4" cy="577.6" r="2.8" fill="#0aa070"/>
<circle cx="304.2" cy="577.6" r="2.8" fill="#1050b8"/>
<circle cx="291.0" cy="583.6" r="2.8" fill="#7a0f9c"/>
<circle cx="257.0" cy="583.0" r="2.8" fill="#10c84a"/>
<circle cx="258.6" cy="586.6" r="2.8" fill="#10c84a"/>
<circle cx="255.0" cy="586.0" r="2.8" fill="#10c84a"/>
<circle cx="262.0" cy="582.6" r="2.8" fill="#1050b8"/>
<circle cx="264.6" cy="584.4" r="2.8" fill="#0aa070"/>
<circle cx="320.0" cy="577.0" r="2.8" fill="#1eea28"/>
<circle cx="325.0" cy="576.6" r="2.8" fill="#1eea28"/>
<circle cx="329.0" cy="580.0" r="2.8" fill="#0aa070"/>
<circle cx="332.0" cy="576.0" r="2.8" fill="#0aa070"/>
<circle cx="333.4" cy="581.4" r="2.8" fill="#1414f0"/>
<circle cx="339.0" cy="577.0" r="2.8" fill="#10c84a"/>
<circle cx="344.4" cy="577.0" r="2.8" fill="#1eea28"/>
<circle cx="353.0" cy="577.4" r="2.8" fill="#0aa070"/>
<circle cx="356.0" cy="576.6" r="2.8" fill="#10c84a"/>
<circle cx="362.0" cy="577.4" r="2.8" fill="#10c84a"/>
<circle cx="351.6" cy="587.0" r="2.8" fill="#0aa070"/>
<circle cx="372.6" cy="582.0" r="2.8" fill="#1eea28"/>
<circle cx="250.0" cy="606.0" r="2.8" fill="#f8a10e"/>
<circle cx="246.6" cy="609.4" r="2.8" fill="#0aa070"/>
<circle cx="262.0" cy="606.6" r="2.8" fill="#0a7d8c"/>
<circle cx="260.6" cy="609.4" r="2.8" fill="#ee1c25"/>
<circle cx="267.4" cy="608.8" r="2.8" fill="#f66a14"/>
<circle cx="321.4" cy="609.4" r="2.8" fill="#f66a14"/>
<circle cx="333.0" cy="605.4" r="2.8" fill="#1414f0"/>
<circle cx="331.6" cy="608.0" r="2.8" fill="#1414f0"/>
<circle cx="343.6" cy="609.2" r="2.8" fill="#10c84a"/>
<circle cx="390.0" cy="561.6" r="2.8" fill="#0a7d8c"/>
<circle cx="392.4" cy="576.6" r="2.8" fill="#1eea28"/>
<circle cx="420.0" cy="561.0" r="2.8" fill="#1eea28"/>
<circle cx="417.2" cy="565.4" r="2.8" fill="#1eea28"/>
<circle cx="421.4" cy="574.6" r="2.8" fill="#1eea28"/>
<circle cx="434.6" cy="573.8" r="2.8" fill="#0a7d8c"/>
<circle cx="457.0" cy="562.4" r="2.8" fill="#0a7d8c"/>
<circle cx="468.6" cy="562.4" r="2.8" fill="#0aa070"/>
<circle cx="470.4" cy="561.6" r="2.8" fill="#0aa070"/>
<circle cx="471.4" cy="576.4" r="2.8" fill="#0aa070"/>
<circle cx="467.4" cy="610.0" r="2.8" fill="#4a12c8"/>
<circle cx="535.6" cy="545.3" r="2.8" fill="#10c84a"/>
<circle cx="534.4" cy="551.2" r="2.8" fill="#0aa070"/>
<circle cx="551.3" cy="546.6" r="2.8" fill="#7a0f9c"/>
<circle cx="550.3" cy="552.1" r="2.8" fill="#1414f0"/>
<circle cx="513.4" cy="548.3" r="2.8" fill="#7a0f9c"/>
<circle cx="497.7" cy="549.3" r="2.8" fill="#ee1c25"/>
<circle cx="493.6" cy="550.6" r="2.8" fill="#0a7d8c"/>
<circle cx="492.3" cy="554.1" r="2.8" fill="#0a7d8c"/>
<circle cx="543.8" cy="553.5" r="2.8" fill="#c01446"/>
<circle cx="561.4" cy="554.4" r="2.8" fill="#ee1c25"/>
<circle cx="512.2" cy="555.9" r="2.8" fill="#c01446"/>
<circle cx="518.7" cy="555.6" r="2.8" fill="#7a0f9c"/>
<circle cx="494.8" cy="557.9" r="2.8" fill="#1414f0"/>
<circle cx="533.1" cy="557.5" r="2.8" fill="#0a7d8c"/>
<circle cx="530.6" cy="560.0" r="2.8" fill="#0a7d8c"/>
<circle cx="482.5" cy="561.6" r="2.8" fill="#7a0f9c"/>
<circle cx="486.7" cy="563.4" r="2.8" fill="#4a12c8"/>
<circle cx="491.1" cy="561.9" r="2.8" fill="#ee1c25"/>
<circle cx="495.5" cy="561.6" r="2.8" fill="#f66a14"/>
<circle cx="479.4" cy="566.7" r="2.8" fill="#0aa070"/>
<circle cx="501.1" cy="560.0" r="2.8" fill="#c01446"/>
<circle cx="503.0" cy="563.2" r="2.8" fill="#ee1c25"/>
<circle cx="499.9" cy="561.9" r="2.8" fill="#7a0f9c"/>
<circle cx="498.0" cy="566.0" r="2.8" fill="#7a0f9c"/>
<circle cx="509.3" cy="559.4" r="2.8" fill="#1414f0"/>
<circle cx="509.9" cy="563.2" r="2.8" fill="#1050b8"/>
<circle cx="509.3" cy="567.5" r="2.8" fill="#7a0f9c"/>
<circle cx="516.8" cy="559.4" r="2.8" fill="#1414f0"/>
<circle cx="516.2" cy="561.9" r="2.8" fill="#0aa070"/>
<circle cx="519.3" cy="563.2" r="2.8" fill="#0aa070"/>
<circle cx="519.9" cy="567.5" r="2.8" fill="#0aa070"/>
<circle cx="522.5" cy="560.0" r="2.8" fill="#10c84a"/>
<circle cx="525.6" cy="563.8" r="2.8" fill="#1414f0"/>
<circle cx="527.5" cy="560.0" r="2.8" fill="#7a0f9c"/>
<circle cx="531.2" cy="564.4" r="2.8" fill="#0a7d8c"/>
<circle cx="536.3" cy="562.5" r="2.8" fill="#7a0f9c"/>
<circle cx="539.4" cy="561.3" r="2.8" fill="#4a12c8"/>
<circle cx="541.3" cy="563.2" r="2.8" fill="#7a0f9c"/>
<circle cx="541.9" cy="559.4" r="2.8" fill="#f63c18"/>
<circle cx="545.1" cy="558.1" r="2.8" fill="#ee1c25"/>
<circle cx="550.7" cy="561.3" r="2.8" fill="#f8a10e"/>
<circle cx="554.5" cy="561.3" r="2.8" fill="#f66a14"/>
<circle cx="558.2" cy="561.9" r="2.8" fill="#f8a10e"/>
<circle cx="561.4" cy="561.3" r="2.8" fill="#f8a10e"/>
<circle cx="552.8" cy="572.6" r="2.8" fill="#f8a10e"/>
<circle cx="480.6" cy="578.0" r="2.8" fill="#1050b8"/>
<circle cx="495.1" cy="576.3" r="2.8" fill="#f8a10e"/>
<circle cx="505.5" cy="578.2" r="2.8" fill="#1414f0"/>
<circle cx="507.0" cy="577.0" r="2.8" fill="#4a12c8"/>
<circle cx="517.4" cy="577.3" r="2.8" fill="#0a7d8c"/>
<circle cx="491.1" cy="583.0" r="2.8" fill="#1414f0"/>
<circle cx="487.9" cy="583.2" r="2.8" fill="#7a0f9c"/>
<circle cx="501.7" cy="583.0" r="2.8" fill="#ee1c25"/>
<circle cx="529.4" cy="583.9" r="2.8" fill="#1414f0"/>
<circle cx="546.3" cy="582.2" r="2.8" fill="#f63c18"/>
<circle cx="551.3" cy="582.6" r="2.8" fill="#f8a10e"/>
<circle cx="554.5" cy="583.2" r="2.8" fill="#f8a10e"/>
<circle cx="558.2" cy="577.6" r="2.8" fill="#f8a10e"/>
<circle cx="561.4" cy="577.0" r="2.8" fill="#f8a10e"/>
<circle cx="494.2" cy="586.1" r="2.8" fill="#f8a10e"/>
<circle cx="532.5" cy="586.9" r="2.8" fill="#f8a10e"/>
<circle cx="548.6" cy="585.1" r="2.8" fill="#c01446"/>
<circle cx="556.4" cy="582.6" r="2.8" fill="#f8a10e"/>
<circle cx="521.4" cy="607.7" r="2.8" fill="#f8a10e"/>
<circle cx="549.1" cy="610.6" r="2.8" fill="#f8a10e"/>
<circle cx="561.8" cy="576.9" r="2.8" fill="#f66a14"/>
<circle cx="563.4" cy="551.2" r="2.8" fill="#ee1c25"/>
<circle cx="564.7" cy="558.1" r="2.8" fill="#f8a10e"/>
<circle cx="567.2" cy="560.0" r="2.8" fill="#f8a10e"/>
<circle cx="567.8" cy="563.8" r="2.8" fill="#f66a14"/>
<circle cx="136.7" cy="607.5" r="2.8" fill="#f8a10e"/>
<circle cx="138.7" cy="608.0" r="2.8" fill="#f8a10e"/>
<circle cx="159.4" cy="609.2" r="2.8" fill="#f8a10e"/>
<circle cx="175.4" cy="608.0" r="2.8" fill="#f8a10e"/>
<circle cx="183.1" cy="608.5" r="2.8" fill="#4a12c8"/>
<circle cx="198.8" cy="608.0" r="2.8" fill="#f8a10e"/>
<circle cx="238.5" cy="609.5" r="2.8" fill="#f8a10e"/>
<circle cx="242.8" cy="609.0" r="2.8" fill="#7a0f9c"/>
<circle cx="502.9" cy="467.0" r="2.8" fill="#f8a10e"/>
<circle cx="510.9" cy="501.4" r="2.8" fill="#ee1c25"/>
<circle cx="530.3" cy="515.7" r="2.8" fill="#f8a10e"/>
</g>
<path d="M87.8 455.8H572.1" stroke="#000" stroke-width="1.4"/>
<clipPath id="cpd"><rect x="84.5" y="667.5999999999999" width="490.9" height="183.70000000000005"/></clipPath>
<g clip-path="url(#cpd)">
<circle cx="90.0" cy="771.8" r="2.8" fill="#f8a10e"/>
<circle cx="92.5" cy="777.0" r="2.8" fill="#ee1c25"/>
<circle cx="94.0" cy="774.8" r="2.8" fill="#7a0f9c"/>
<circle cx="97.0" cy="774.8" r="2.8" fill="#4a12c8"/>
<circle cx="99.2" cy="775.0" r="2.8" fill="#1414f0"/>
<circle cx="100.5" cy="789.5" r="2.8" fill="#7a0f9c"/>
<circle cx="156.8" cy="775.5" r="2.8" fill="#c01446"/>
<circle cx="158.5" cy="775.5" r="2.8" fill="#c01446"/>
<circle cx="203.2" cy="748.0" r="2.8" fill="#4a12c8"/>
<circle cx="205.8" cy="770.8" r="2.8" fill="#4a12c8"/>
<circle cx="209.5" cy="774.0" r="2.8" fill="#ee1c25"/>
<circle cx="207.0" cy="777.2" r="2.8" fill="#c01446"/>
<circle cx="211.2" cy="775.5" r="2.8" fill="#f8a10e"/>
<circle cx="208.5" cy="820.5" r="2.8" fill="#f8a10e"/>
<circle cx="275.5" cy="671.0" r="2.8" fill="#f8a10e"/>
<circle cx="304.5" cy="672.8" r="2.8" fill="#1414f0"/>
<circle cx="346.5" cy="671.0" r="2.8" fill="#f8a10e"/>
<circle cx="276.5" cy="725.8" r="2.8" fill="#f8a10e"/>
<circle cx="278.0" cy="727.5" r="2.8" fill="#f8a10e"/>
<circle cx="280.5" cy="731.8" r="2.8" fill="#1414f0"/>
<circle cx="279.2" cy="744.2" r="2.8" fill="#7a0f9c"/>
<circle cx="281.8" cy="749.2" r="2.8" fill="#ee1c25"/>
<circle cx="313.5" cy="739.5" r="2.8" fill="#0a7d8c"/>
<circle cx="312.0" cy="745.0" r="2.8" fill="#f66a14"/>
<circle cx="320.2" cy="745.5" r="2.8" fill="#f8a10e"/>
<circle cx="355.5" cy="736.5" r="2.8" fill="#4a12c8"/>
<circle cx="404.5" cy="751.8" r="2.8" fill="#1eea28"/>
<circle cx="254.4" cy="775.6" r="2.8" fill="#0aa070"/>
<circle cx="261.0" cy="774.6" r="2.8" fill="#0a7d8c"/>
<circle cx="265.0" cy="774.4" r="2.8" fill="#10c84a"/>
<circle cx="266.4" cy="772.6" r="2.8" fill="#1eea28"/>
<circle cx="271.2" cy="774.4" r="2.8" fill="#1414f0"/>
<circle cx="280.4" cy="769.2" r="2.8" fill="#0a7d8c"/>
<circle cx="286.0" cy="776.0" r="2.8" fill="#0a7d8c"/>
<circle cx="287.2" cy="777.6" r="2.8" fill="#0aa070"/>
<circle cx="291.4" cy="775.6" r="2.8" fill="#1414f0"/>
<circle cx="293.2" cy="775.0" r="2.8" fill="#1414f0"/>
<circle cx="295.6" cy="776.6" r="2.8" fill="#0aa070"/>
<circle cx="301.6" cy="773.4" r="2.8" fill="#7a0f9c"/>
<circle cx="309.2" cy="773.0" r="2.8" fill="#1eea28"/>
<circle cx="309.6" cy="775.8" r="2.8" fill="#1eea28"/>
<circle cx="308.4" cy="775.0" r="2.8" fill="#1eea28"/>
<circle cx="316.0" cy="776.2" r="2.8" fill="#1414f0"/>
<circle cx="324.4" cy="775.0" r="2.8" fill="#0aa070"/>
<circle cx="326.0" cy="773.4" r="2.8" fill="#10c84a"/>
<circle cx="325.0" cy="777.0" r="2.8" fill="#0aa070"/>
<circle cx="338.4" cy="774.2" r="2.8" fill="#0a7d8c"/>
<circle cx="347.4" cy="769.0" r="2.8" fill="#1eea28"/>
<circle cx="346.4" cy="775.2" r="2.8" fill="#1eea28"/>
<circle cx="359.6" cy="772.6" r="2.8" fill="#10c84a"/>
<circle cx="362.0" cy="774.4" r="2.8" fill="#0aa070"/>
<circle cx="364.0" cy="776.6" r="2.8" fill="#0aa070"/>
<circle cx="367.4" cy="772.6" r="2.8" fill="#7a0f9c"/>
<circle cx="375.4" cy="773.6" r="2.8" fill="#f8a10e"/>
<circle cx="376.0" cy="779.0" r="2.8" fill="#1eea28"/>
<circle cx="375.6" cy="780.6" r="2.8" fill="#1eea28"/>
<circle cx="382.0" cy="772.6" r="2.8" fill="#10c84a"/>
<circle cx="384.4" cy="772.2" r="2.8" fill="#1eea28"/>
<circle cx="383.6" cy="776.6" r="2.8" fill="#1414f0"/>
<circle cx="379.6" cy="783.0" r="2.8" fill="#0a7d8c"/>
<circle cx="256.6" cy="790.4" r="2.8" fill="#0a7d8c"/>
<circle cx="274.0" cy="786.0" r="2.8" fill="#1414f0"/>
<circle cx="275.6" cy="789.0" r="2.8" fill="#1050b8"/>
<circle cx="278.0" cy="791.0" r="2.8" fill="#1414f0"/>
<circle cx="286.0" cy="794.6" r="2.8" fill="#f8a10e"/>
<circle cx="288.0" cy="796.0" r="2.8" fill="#f8a10e"/>
<circle cx="290.0" cy="796.6" r="2.8" fill="#f8a10e"/>
<circle cx="297.6" cy="790.6" r="2.8" fill="#ee1c25"/>
<circle cx="299.2" cy="797.4" r="2.8" fill="#ee1c25"/>
<circle cx="298.4" cy="796.0" r="2.8" fill="#f8a10e"/>
<circle cx="300.4" cy="784.6" r="2.8" fill="#1414f0"/>
<circle cx="300.6" cy="787.0" r="2.8" fill="#1414f0"/>
<circle cx="303.0" cy="792.0" r="2.8" fill="#0a7d8c"/>
<circle cx="306.0" cy="788.6" r="2.8" fill="#0aa070"/>
<circle cx="305.4" cy="797.4" r="2.8" fill="#1414f0"/>
<circle cx="309.6" cy="797.4" r="2.8" fill="#0a7d8c"/>
<circle cx="311.0" cy="788.0" r="2.8" fill="#0aa070"/>
<circle cx="314.0" cy="790.4" r="2.8" fill="#0aa070"/>
<circle cx="316.6" cy="788.0" r="2.8" fill="#0aa070"/>
<circle cx="319.0" cy="789.4" r="2.8" fill="#0a7d8c"/>
<circle cx="322.4" cy="792.0" r="2.8" fill="#1414f0"/>
<circle cx="322.0" cy="797.4" r="2.8" fill="#0aa070"/>
<circle cx="329.4" cy="787.4" r="2.8" fill="#10c84a"/>
<circle cx="335.6" cy="787.6" r="2.8" fill="#7a0f9c"/>
<circle cx="349.4" cy="788.6" r="2.8" fill="#10c84a"/>
<circle cx="352.0" cy="790.6" r="2.8" fill="#10c84a"/>
<circle cx="355.0" cy="791.0" r="2.8" fill="#1eea28"/>
<circle cx="357.0" cy="791.6" r="2.8" fill="#10c84a"/>
<circle cx="354.0" cy="796.6" r="2.8" fill="#f8a10e"/>
<circle cx="357.0" cy="797.4" r="2.8" fill="#7a0f9c"/>
<circle cx="358.0" cy="795.6" r="2.8" fill="#1414f0"/>
<circle cx="363.4" cy="801.0" r="2.8" fill="#0aa070"/>
<circle cx="363.6" cy="788.0" r="2.8" fill="#0a7d8c"/>
<circle cx="366.0" cy="789.4" r="2.8" fill="#0aa070"/>
<circle cx="370.0" cy="789.0" r="2.8" fill="#0aa070"/>
<circle cx="372.0" cy="791.0" r="2.8" fill="#10c84a"/>
<circle cx="374.4" cy="793.0" r="2.8" fill="#1eea28"/>
<circle cx="378.0" cy="788.0" r="2.8" fill="#1eea28"/>
<circle cx="381.0" cy="787.0" r="2.8" fill="#1eea28"/>
<circle cx="380.0" cy="790.6" r="2.8" fill="#1eea28"/>
<circle cx="385.0" cy="787.0" r="2.8" fill="#0aa070"/>
<circle cx="378.0" cy="797.6" r="2.8" fill="#7a0f9c"/>
<circle cx="381.0" cy="796.0" r="2.8" fill="#0a7d8c"/>
<circle cx="382.4" cy="794.0" r="2.8" fill="#0a7d8c"/>
<circle cx="255.6" cy="824.0" r="2.8" fill="#1414f0"/>
<circle cx="262.4" cy="821.0" r="2.8" fill="#7a0f9c"/>
<circle cx="263.6" cy="818.6" r="2.8" fill="#7a0f9c"/>
<circle cx="282.0" cy="821.6" r="2.8" fill="#f8a10e"/>
<circle cx="283.0" cy="820.0" r="2.8" fill="#f66a14"/>
<circle cx="284.4" cy="818.0" r="2.8" fill="#f8a10e"/>
<circle cx="296.4" cy="820.4" r="2.8" fill="#f8a10e"/>
<circle cx="301.6" cy="819.4" r="2.8" fill="#f8a10e"/>
<circle cx="303.0" cy="822.0" r="2.8" fill="#f8a10e"/>
<circle cx="312.0" cy="821.0" r="2.8" fill="#ee1c25"/>
<circle cx="315.0" cy="822.6" r="2.8" fill="#f66a14"/>
<circle cx="317.0" cy="820.0" r="2.8" fill="#f66a14"/>
<circle cx="319.0" cy="820.6" r="2.8" fill="#f8a10e"/>
<circle cx="322.6" cy="820.4" r="2.8" fill="#f8a10e"/>
<circle cx="344.0" cy="820.6" r="2.8" fill="#f8a10e"/>
<circle cx="347.6" cy="825.0" r="2.8" fill="#f8a10e"/>
<circle cx="353.0" cy="831.0" r="2.8" fill="#f8a10e"/>
<circle cx="342.6" cy="835.4" r="2.8" fill="#f8a10e"/>
<circle cx="350.0" cy="838.0" r="2.8" fill="#f8a10e"/>
<circle cx="295.0" cy="835.6" r="2.8" fill="#f8a10e"/>
<circle cx="369.6" cy="824.0" r="2.8" fill="#f8a10e"/>
<circle cx="371.0" cy="821.0" r="2.8" fill="#f8a10e"/>
<circle cx="376.0" cy="819.0" r="2.8" fill="#f8a10e"/>
<circle cx="378.0" cy="823.0" r="2.8" fill="#1414f0"/>
<circle cx="368.4" cy="822.6" r="2.8" fill="#7a0f9c"/>
<circle cx="374.0" cy="836.0" r="2.8" fill="#f8a10e"/>
<circle cx="385.6" cy="823.0" r="2.8" fill="#0aa070"/>
<circle cx="388.0" cy="775.0" r="2.8" fill="#1eea28"/>
<circle cx="390.0" cy="776.0" r="2.8" fill="#1eea28"/>
<circle cx="393.0" cy="775.0" r="2.8" fill="#10c84a"/>
<circle cx="395.4" cy="771.4" r="2.8" fill="#10c84a"/>
<circle cx="397.0" cy="769.4" r="2.8" fill="#0aa070"/>
<circle cx="393.0" cy="779.0" r="2.8" fill="#1414f0"/>
<circle cx="401.4" cy="768.6" r="2.8" fill="#f8a10e"/>
<circle cx="410.6" cy="775.4" r="2.8" fill="#1eea28"/>
<circle cx="414.0" cy="772.6" r="2.8" fill="#f8a10e"/>
<circle cx="417.4" cy="776.2" r="2.8" fill="#1414f0"/>
<circle cx="422.6" cy="774.4" r="2.8" fill="#1eea28"/>
<circle cx="425.4" cy="769.4" r="2.8" fill="#1414f0"/>
<circle cx="430.6" cy="772.6" r="2.8" fill="#0aa070"/>
<circle cx="432.0" cy="775.0" r="2.8" fill="#1414f0"/>
<circle cx="437.0" cy="774.4" r="2.8" fill="#10c84a"/>
<circle cx="449.0" cy="773.4" r="2.8" fill="#f8a10e"/>
<circle cx="451.4" cy="774.4" r="2.8" fill="#c01446"/>
<circle cx="451.0" cy="765.0" r="2.8" fill="#c01446"/>
<circle cx="459.4" cy="776.6" r="2.8" fill="#4a12c8"/>
<circle cx="460.6" cy="774.4" r="2.8" fill="#1414f0"/>
<circle cx="462.0" cy="772.6" r="2.8" fill="#1414f0"/>
<circle cx="465.0" cy="774.4" r="2.8" fill="#f8a10e"/>
<circle cx="464.0" cy="766.4" r="2.8" fill="#f8a10e"/>
<circle cx="463.0" cy="765.4" r="2.8" fill="#7a0f9c"/>
<circle cx="471.4" cy="773.4" r="2.8" fill="#f8a10e"/>
<circle cx="475.4" cy="770.0" r="2.8" fill="#7a0f9c"/>
<circle cx="479.0" cy="774.4" r="2.8" fill="#4a12c8"/>
<circle cx="480.6" cy="771.4" r="2.8" fill="#1414f0"/>
<circle cx="476.6" cy="762.0" r="2.8" fill="#1414f0"/>
<circle cx="482.0" cy="763.4" r="2.8" fill="#1050b8"/>
<circle cx="484.4" cy="766.0" r="2.8" fill="#7a0f9c"/>
<circle cx="483.6" cy="757.0" r="2.8" fill="#c01446"/>
<circle cx="486.0" cy="760.0" r="2.8" fill="#ee1c25"/>
<circle cx="484.4" cy="783.0" r="2.8" fill="#1050b8"/>
<circle cx="489.6" cy="773.6" r="2.8" fill="#0aa070"/>
<circle cx="491.0" cy="776.6" r="2.8" fill="#0aa070"/>
<circle cx="492.0" cy="771.0" r="2.8" fill="#1050b8"/>
<circle cx="496.0" cy="771.0" r="2.8" fill="#f66a14"/>
<circle cx="500.4" cy="770.6" r="2.8" fill="#ee1c25"/>
<circle cx="503.0" cy="772.6" r="2.8" fill="#f8a10e"/>
<circle cx="505.0" cy="774.0" r="2.8" fill="#1050b8"/>
<circle cx="508.0" cy="773.0" r="2.8" fill="#1414f0"/>
<circle cx="521.6" cy="775.0" r="2.8" fill="#7a0f9c"/>
<circle cx="387.0" cy="789.4" r="2.8" fill="#7a0f9c"/>
<circle cx="390.0" cy="786.6" r="2.8" fill="#1eea28"/>
<circle cx="393.0" cy="788.0" r="2.8" fill="#1eea28"/>
<circle cx="396.0" cy="788.6" r="2.8" fill="#1eea28"/>
<circle cx="399.0" cy="789.0" r="2.8" fill="#1eea28"/>
<circle cx="401.6" cy="789.4" r="2.8" fill="#1eea28"/>
<circle cx="419.0" cy="788.0" r="2.8" fill="#0a7d8c"/>
<circle cx="421.4" cy="789.4" r="2.8" fill="#0aa070"/>
<circle cx="416.0" cy="794.0" r="2.8" fill="#ee1c25"/>
<circle cx="414.6" cy="796.4" r="2.8" fill="#ee1c25"/>
<circle cx="439.6" cy="787.4" r="2.8" fill="#0aa070"/>
<circle cx="443.0" cy="794.0" r="2.8" fill="#f8a10e"/>
<circle cx="444.6" cy="797.0" r="2.8" fill="#ee1c25"/>
<circle cx="446.4" cy="792.4" r="2.8" fill="#7a0f9c"/>
<circle cx="450.0" cy="796.6" r="2.8" fill="#f8a10e"/>
<circle cx="457.0" cy="794.6" r="2.8" fill="#c01446"/>
<circle cx="459.4" cy="791.4" r="2.8" fill="#c01446"/>
<circle cx="469.8" cy="796.6" r="2.8" fill="#f8a10e"/>
<circle cx="395.0" cy="820.6" r="2.8" fill="#f8a10e"/>
<circle cx="397.4" cy="821.0" r="2.8" fill="#f8a10e"/>
<circle cx="399.0" cy="822.0" r="2.8" fill="#1050b8"/>
<circle cx="405.0" cy="820.6" r="2.8" fill="#0a7d8c"/>
<circle cx="406.6" cy="819.0" r="2.8" fill="#7a0f9c"/>
<circle cx="408.6" cy="821.0" r="2.8" fill="#0a7d8c"/>
<circle cx="413.6" cy="821.0" r="2.8" fill="#0a7d8c"/>
<circle cx="420.0" cy="821.4" r="2.8" fill="#c01446"/>
<circle cx="429.4" cy="819.0" r="2.8" fill="#f8a10e"/>
<circle cx="431.4" cy="826.0" r="2.8" fill="#f8a10e"/>
<circle cx="433.0" cy="824.0" r="2.8" fill="#7a0f9c"/>
<circle cx="437.0" cy="820.6" r="2.8" fill="#f8a10e"/>
<circle cx="447.6" cy="822.0" r="2.8" fill="#f8a10e"/>
<circle cx="455.4" cy="821.4" r="2.8" fill="#f8a10e"/>
<circle cx="458.4" cy="822.0" r="2.8" fill="#f8a10e"/>
<circle cx="466.0" cy="817.0" r="2.8" fill="#f8a10e"/>
<circle cx="472.6" cy="822.0" r="2.8" fill="#f8a10e"/>
<circle cx="475.4" cy="821.0" r="2.8" fill="#f8a10e"/>
<circle cx="501.6" cy="821.6" r="2.8" fill="#f8a10e"/>
<circle cx="424.0" cy="836.6" r="2.8" fill="#1050b8"/>
<circle cx="466.0" cy="837.4" r="2.8" fill="#f66a14"/>
<circle cx="470.0" cy="836.0" r="2.8" fill="#f8a10e"/>
<circle cx="531.6" cy="760.6" r="2.8" fill="#f8a10e"/>
<circle cx="526.6" cy="770.0" r="2.8" fill="#1414f0"/>
<circle cx="528.4" cy="775.0" r="2.8" fill="#1414f0"/>
<circle cx="533.0" cy="775.6" r="2.8" fill="#f66a14"/>
<circle cx="547.6" cy="773.0" r="2.8" fill="#7a0f9c"/>
<circle cx="551.0" cy="775.6" r="2.8" fill="#f8a10e"/>
<circle cx="553.4" cy="775.0" r="2.8" fill="#f8a10e"/>
<circle cx="545.0" cy="781.0" r="2.8" fill="#7a0f9c"/>
<circle cx="541.4" cy="785.0" r="2.8" fill="#7a0f9c"/>
<circle cx="539.6" cy="789.4" r="2.8" fill="#4a12c8"/>
<circle cx="530.4" cy="794.0" r="2.8" fill="#c01446"/>
<circle cx="537.0" cy="797.4" r="2.8" fill="#1414f0"/>
<circle cx="566.0" cy="776.6" r="2.8" fill="#f66a14"/>
<circle cx="567.6" cy="774.6" r="2.8" fill="#f8a10e"/>
<circle cx="563.6" cy="755.0" r="2.8" fill="#f8a10e"/>
<circle cx="472.8" cy="726.8" r="2.8" fill="#f8a10e"/>
<circle cx="425.2" cy="746.2" r="2.8" fill="#0aa070"/>
<circle cx="433.2" cy="747.5" r="2.8" fill="#c01446"/>
<circle cx="435.2" cy="751.2" r="2.8" fill="#f8a10e"/>
<circle cx="444.0" cy="748.8" r="2.8" fill="#f8a10e"/>
<circle cx="446.0" cy="749.2" r="2.8" fill="#f8a10e"/>
<circle cx="452.8" cy="747.0" r="2.8" fill="#f8a10e"/>
<circle cx="456.5" cy="744.2" r="2.8" fill="#f8a10e"/>
<circle cx="464.0" cy="746.8" r="2.8" fill="#f8a10e"/>
<circle cx="462.2" cy="749.5" r="2.8" fill="#c01446"/>
<circle cx="488.2" cy="750.0" r="2.8" fill="#ee1c25"/>
<circle cx="497.8" cy="746.2" r="2.8" fill="#f8a10e"/>
<circle cx="499.0" cy="748.2" r="2.8" fill="#f8a10e"/>
<circle cx="534.5" cy="749.2" r="2.8" fill="#f8a10e"/>
<circle cx="562.2" cy="745.8" r="2.8" fill="#f8a10e"/>
<circle cx="563.5" cy="752.5" r="2.8" fill="#f66a14"/>
<circle cx="484.5" cy="765.8" r="2.8" fill="#7a0f9c"/>
<circle cx="481.5" cy="763.2" r="2.8" fill="#1050b8"/>
</g>
<path d="M87.8 668.3H572.1" stroke="#000" stroke-width="1.4"/>
<g stroke="#000" stroke-width="1.4">
<path d="M600 668.60H640 M600 693.99H640 M600 719.37H640 M600 744.76H640 M600 770.14H640 M600 795.53H640 M600 820.91H640 M600 846.30H640" fill="none"/>
<rect x="607.8" y="668.6" width="24.0" height="177.69999999999993" fill="url(#cb)"/>
</g>
<g font-family="'Liberation Sans', Arial, Helvetica, sans-serif" fill="#000">
<text transform="translate(684.8,674.6) scale(1.05,1)" font-size="16.8" text-anchor="end">160</text>
<text transform="translate(684.8,700.0) scale(1.05,1)" font-size="16.8" text-anchor="end">140</text>
<text transform="translate(684.8,725.4) scale(1.05,1)" font-size="16.8" text-anchor="end">120</text>
<text transform="translate(684.8,750.8) scale(1.05,1)" font-size="16.8" text-anchor="end">100</text>
<text transform="translate(684.8,776.1) scale(1.05,1)" font-size="16.8" text-anchor="end">80</text>
<text transform="translate(684.8,801.5) scale(1.05,1)" font-size="16.8" text-anchor="end">60</text>
<text transform="translate(684.8,826.9) scale(1.05,1)" font-size="16.8" text-anchor="end">40</text>
<text transform="translate(684.8,852.3) scale(1.05,1)" font-size="16.8" text-anchor="end">20</text>
<text transform="translate(604.3,640.2) scale(1.05,1)" font-size="16.8" text-anchor="start">[Pa<tspan font-size="11" dy="-5.5">2</tspan><tspan dy="5.5">/Hz]</tspan></text>
<text transform="translate(69.8,192.7) scale(1.07,1)" font-size="16.8" text-anchor="end">30</text>
<text transform="translate(69.8,174.8) scale(1.07,1)" font-size="16.8" text-anchor="end">60</text>
<text transform="translate(69.8,156.9) scale(1.07,1)" font-size="16.8" text-anchor="end">90</text>
<text transform="translate(69.8,139.1) scale(1.07,1)" font-size="16.8" text-anchor="end">120</text>
<text transform="translate(69.8,121.2) scale(1.07,1)" font-size="16.8" text-anchor="end">150</text>
<text transform="translate(69.8,103.3) scale(1.07,1)" font-size="16.8" text-anchor="end">180</text>
<text transform="translate(69.8,85.4) scale(1.07,1)" font-size="16.8" text-anchor="end">210</text>
<text transform="translate(69.8,67.5) scale(1.07,1)" font-size="16.8" text-anchor="end">240</text>
<text transform="translate(69.8,49.7) scale(1.07,1)" font-size="16.8" text-anchor="end">270</text>
<text transform="translate(69.8,31.8) scale(1.07,1)" font-size="16.8" text-anchor="end">300</text>
<text transform="translate(69.8,13.9) scale(1.07,1)" font-size="16.8" text-anchor="end">330</text>
<text transform="translate(13.0,98.1) rotate(-90)" font-size="17.8" text-anchor="middle">angle</text>
<text transform="translate(69.8,428.2) scale(1.07,1)" font-size="16.8" text-anchor="end">30</text>
<text transform="translate(69.8,410.4) scale(1.07,1)" font-size="16.8" text-anchor="end">60</text>
<text transform="translate(69.8,392.5) scale(1.07,1)" font-size="16.8" text-anchor="end">90</text>
<text transform="translate(69.8,374.6) scale(1.07,1)" font-size="16.8" text-anchor="end">120</text>
<text transform="translate(69.8,356.8) scale(1.07,1)" font-size="16.8" text-anchor="end">150</text>
<text transform="translate(69.8,338.9) scale(1.07,1)" font-size="16.8" text-anchor="end">180</text>
<text transform="translate(69.8,321.1) scale(1.07,1)" font-size="16.8" text-anchor="end">210</text>
<text transform="translate(69.8,303.2) scale(1.07,1)" font-size="16.8" text-anchor="end">240</text>
<text transform="translate(69.8,285.4) scale(1.07,1)" font-size="16.8" text-anchor="end">270</text>
<text transform="translate(69.8,267.6) scale(1.07,1)" font-size="16.8" text-anchor="end">300</text>
<text transform="translate(13.0,333.8) rotate(-90)" font-size="17.8" text-anchor="middle">angle</text>
<text transform="translate(90.6,443.8) scale(1.065,1)" font-size="16.8" text-anchor="middle">0</text>
<text transform="translate(169.5,443.8) scale(1.065,1)" font-size="16.8" text-anchor="middle">60</text>
<text transform="translate(248.5,443.8) scale(1.065,1)" font-size="16.8" text-anchor="middle">120</text>
<text transform="translate(327.4,443.8) scale(1.065,1)" font-size="16.8" text-anchor="middle">180</text>
<text transform="translate(406.4,443.8) scale(1.065,1)" font-size="16.8" text-anchor="middle">240</text>
<text transform="translate(485.3,443.8) scale(1.065,1)" font-size="16.8" text-anchor="middle">300</text>
<text transform="translate(564.3,443.8) scale(1.065,1)" font-size="16.8" text-anchor="middle">360</text>
<text transform="translate(69.8,640.6) scale(1.07,1)" font-size="16.8" text-anchor="end">30</text>
<text transform="translate(69.8,622.7) scale(1.07,1)" font-size="16.8" text-anchor="end">60</text>
<text transform="translate(69.8,604.8) scale(1.07,1)" font-size="16.8" text-anchor="end">90</text>
<text transform="translate(69.8,587.0) scale(1.07,1)" font-size="16.8" text-anchor="end">120</text>
<text transform="translate(69.8,569.1) scale(1.07,1)" font-size="16.8" text-anchor="end">150</text>
<text transform="translate(69.8,551.2) scale(1.07,1)" font-size="16.8" text-anchor="end">180</text>
<text transform="translate(69.8,533.3) scale(1.07,1)" font-size="16.8" text-anchor="end">210</text>
<text transform="translate(69.8,515.4) scale(1.07,1)" font-size="16.8" text-anchor="end">240</text>
<text transform="translate(69.8,497.6) scale(1.07,1)" font-size="16.8" text-anchor="end">270</text>
<text transform="translate(69.8,479.7) scale(1.07,1)" font-size="16.8" text-anchor="end">300</text>
<text transform="translate(69.8,461.8) scale(1.07,1)" font-size="16.8" text-anchor="end">330</text>
<text transform="translate(13.0,546.0) rotate(-90)" font-size="17.8" text-anchor="middle">angle</text>
<text transform="translate(90.6,656.2) scale(1.065,1)" font-size="16.8" text-anchor="middle">0</text>
<text transform="translate(169.5,656.2) scale(1.065,1)" font-size="16.8" text-anchor="middle">60</text>
<text transform="translate(248.5,656.2) scale(1.065,1)" font-size="16.8" text-anchor="middle">120</text>
<text transform="translate(327.4,656.2) scale(1.065,1)" font-size="16.8" text-anchor="middle">180</text>
<text transform="translate(406.4,656.2) scale(1.065,1)" font-size="16.8" text-anchor="middle">240</text>
<text transform="translate(485.3,656.2) scale(1.065,1)" font-size="16.8" text-anchor="middle">300</text>
<text transform="translate(564.3,656.2) scale(1.065,1)" font-size="16.8" text-anchor="middle">360</text>
<text transform="translate(69.8,853.0) scale(1.07,1)" font-size="16.8" text-anchor="end">30</text>
<text transform="translate(69.8,835.1) scale(1.07,1)" font-size="16.8" text-anchor="end">60</text>
<text transform="translate(69.8,817.3) scale(1.07,1)" font-size="16.8" text-anchor="end">90</text>
<text transform="translate(69.8,799.4) scale(1.07,1)" font-size="16.8" text-anchor="end">120</text>
<text transform="translate(69.8,781.5) scale(1.07,1)" font-size="16.8" text-anchor="end">150</text>
<text transform="translate(69.8,763.6) scale(1.07,1)" font-size="16.8" text-anchor="end">180</text>
<text transform="translate(69.8,745.8) scale(1.07,1)" font-size="16.8" text-anchor="end">210</text>
<text transform="translate(69.8,727.9) scale(1.07,1)" font-size="16.8" text-anchor="end">240</text>
<text transform="translate(69.8,710.0) scale(1.07,1)" font-size="16.8" text-anchor="end">270</text>
<text transform="translate(69.8,692.2) scale(1.07,1)" font-size="16.8" text-anchor="end">300</text>
<text transform="translate(69.8,674.3) scale(1.07,1)" font-size="16.8" text-anchor="end">330</text>
<text transform="translate(13.0,758.4) rotate(-90)" font-size="17.8" text-anchor="middle">angle</text>
<text transform="translate(90.6,870.8) scale(1.065,1)" font-size="16.8" text-anchor="middle">0</text>
<text transform="translate(169.5,870.8) scale(1.065,1)" font-size="16.8" text-anchor="middle">60</text>
<text transform="translate(248.5,870.8) scale(1.065,1)" font-size="16.8" text-anchor="middle">120</text>
<text transform="translate(327.4,870.8) scale(1.065,1)" font-size="16.8" text-anchor="middle">180</text>
<text transform="translate(406.4,870.8) scale(1.065,1)" font-size="16.8" text-anchor="middle">240</text>
<text transform="translate(485.3,870.8) scale(1.065,1)" font-size="16.8" text-anchor="middle">300</text>
<text transform="translate(564.3,870.8) scale(1.065,1)" font-size="16.8" text-anchor="middle">360</text>
<text transform="translate(109.5,38.4) scale(1.065,1)" font-size="21.7" text-anchor="start">a) all</text>
<text transform="translate(101.8,285.2) scale(1.065,1)" font-size="21.7" text-anchor="start">b) all (superimposed)</text>
<text transform="translate(101.8,497.3) scale(1.065,1)" font-size="21.7" text-anchor="start">c) excluding typhoon days</text>
<text transform="translate(101.8,711.2) scale(1.065,1)" font-size="21.7" text-anchor="start">d) typhoon days</text>
<text transform="translate(102.1,209.3) scale(1.0,1)" font-size="18" text-anchor="middle">2011</text>
<text transform="translate(148.2,208.9) scale(1.03,1)" font-size="12.8" text-anchor="middle">May</text>
<text transform="translate(210.3,208.9) scale(1.0,1)" font-size="12.5" text-anchor="middle">Oct</text>
<text transform="translate(262.8,209.3) scale(1.0,1)" font-size="18" text-anchor="middle">2012</text>
<text transform="translate(310.0,208.9) scale(1.03,1)" font-size="12.8" text-anchor="middle">May</text>
<text transform="translate(371.9,208.9) scale(1.0,1)" font-size="12.5" text-anchor="middle">Oct</text>
<text transform="translate(427.6,209.3) scale(1.0,1)" font-size="18" text-anchor="middle">2013</text>
<text transform="translate(473.7,208.9) scale(1.03,1)" font-size="12.8" text-anchor="middle">May</text>
<text transform="translate(535.8,208.9) scale(1.0,1)" font-size="12.5" text-anchor="middle">Oct</text>
<text transform="translate(327.3,231.2) scale(1.01,1)" font-size="27" text-anchor="middle">Year and month</text>
<text transform="translate(328.3,900.6) scale(1.03,1)" font-size="26.4" text-anchor="middle">Julian day [day]</text>
</g>
</svg>
</body></html>
